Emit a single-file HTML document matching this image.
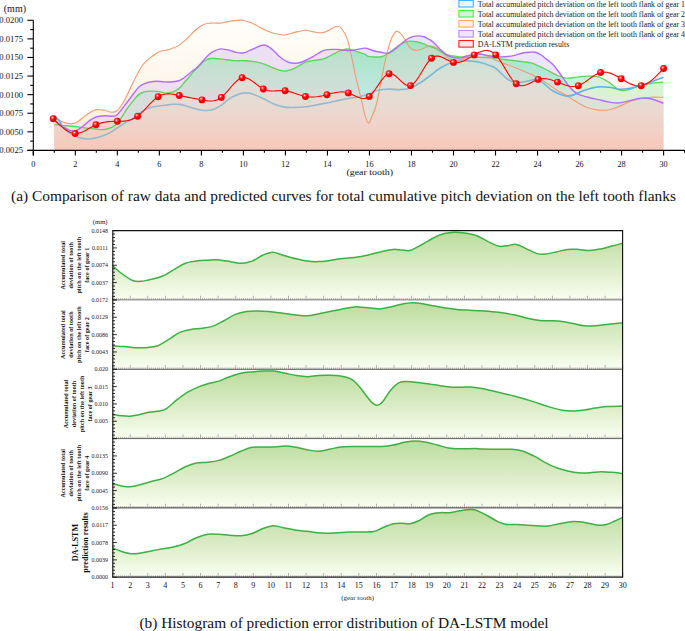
<!DOCTYPE html>
<html><head><meta charset="utf-8"><style>
html,body{margin:0;padding:0;background:#fff;}
body{width:685px;height:631px;overflow:hidden;font-family:"Liberation Serif",serif;}
svg{display:block;}
</style></head><body>
<svg width="685" height="631" viewBox="0 0 685 631">
<defs>
<radialGradient id="ball" cx="0.38" cy="0.35" r="0.65"><stop offset="0" stop-color="#ffffff"/><stop offset="0.22" stop-color="#ff5a5a"/><stop offset="0.5" stop-color="#ff0000"/><stop offset="1" stop-color="#e00000"/></radialGradient>
<linearGradient id="redfill" x1="0" y1="0" x2="0" y2="1"><stop offset="0" stop-color="#f6d2c8" stop-opacity="0.25"/><stop offset="1" stop-color="#f4b8ae" stop-opacity="0.75"/></linearGradient>
<linearGradient id="gfill" x1="0" y1="0" x2="0" y2="1"><stop offset="0" stop-color="#c0e0a2"/><stop offset="1" stop-color="#f8fcf2"/></linearGradient>
</defs>
<linearGradient id="fG" gradientUnits="userSpaceOnUse" x1="0" y1="20" x2="0" y2="150"><stop offset="0.00" stop-color="rgb(84,255,99)" stop-opacity="0.536"/><stop offset="0.10" stop-color="rgb(95,255,115)" stop-opacity="0.534"/><stop offset="0.20" stop-color="rgb(106,255,130)" stop-opacity="0.531"/><stop offset="0.30" stop-color="rgb(116,255,146)" stop-opacity="0.529"/><stop offset="0.40" stop-color="rgb(127,255,162)" stop-opacity="0.526"/><stop offset="0.50" stop-color="rgb(138,255,177)" stop-opacity="0.524"/><stop offset="0.60" stop-color="rgb(148,255,193)" stop-opacity="0.522"/><stop offset="0.70" stop-color="rgb(159,255,208)" stop-opacity="0.519"/><stop offset="0.80" stop-color="rgb(170,255,224)" stop-opacity="0.517"/><stop offset="0.90" stop-color="rgb(181,255,239)" stop-opacity="0.515"/><stop offset="1.00" stop-color="rgb(191,255,255)" stop-opacity="0.512"/></linearGradient>
<linearGradient id="fB" gradientUnits="userSpaceOnUse" x1="0" y1="20" x2="0" y2="150"><stop offset="0.00" stop-color="rgb(255,255,255)" stop-opacity="0.000"/><stop offset="0.10" stop-color="rgb(255,255,255)" stop-opacity="0.000"/><stop offset="0.20" stop-color="rgb(255,255,255)" stop-opacity="0.000"/><stop offset="0.30" stop-color="rgb(255,255,255)" stop-opacity="0.000"/><stop offset="0.40" stop-color="rgb(255,255,255)" stop-opacity="0.000"/><stop offset="0.50" stop-color="rgb(255,255,255)" stop-opacity="0.000"/><stop offset="0.60" stop-color="rgb(255,255,255)" stop-opacity="0.000"/><stop offset="0.70" stop-color="rgb(255,255,255)" stop-opacity="0.000"/><stop offset="0.80" stop-color="rgb(255,255,255)" stop-opacity="0.000"/><stop offset="0.90" stop-color="rgb(255,255,255)" stop-opacity="0.000"/><stop offset="1.00" stop-color="rgb(255,255,255)" stop-opacity="0.000"/></linearGradient>
<linearGradient id="fO" gradientUnits="userSpaceOnUse" x1="0" y1="20" x2="0" y2="150"><stop offset="0.00" stop-color="rgb(255,248,216)" stop-opacity="0.168"/><stop offset="0.10" stop-color="rgb(254,245,213)" stop-opacity="0.208"/><stop offset="0.20" stop-color="rgb(253,241,210)" stop-opacity="0.248"/><stop offset="0.30" stop-color="rgb(252,237,207)" stop-opacity="0.288"/><stop offset="0.40" stop-color="rgb(251,233,204)" stop-opacity="0.328"/><stop offset="0.50" stop-color="rgb(249,230,202)" stop-opacity="0.369"/><stop offset="0.60" stop-color="rgb(248,226,199)" stop-opacity="0.409"/><stop offset="0.70" stop-color="rgb(247,222,196)" stop-opacity="0.449"/><stop offset="0.80" stop-color="rgb(246,218,193)" stop-opacity="0.489"/><stop offset="0.90" stop-color="rgb(245,214,190)" stop-opacity="0.529"/><stop offset="1.00" stop-color="rgb(244,211,187)" stop-opacity="0.569"/></linearGradient>
<linearGradient id="fP" gradientUnits="userSpaceOnUse" x1="0" y1="20" x2="0" y2="150"><stop offset="0.00" stop-color="rgb(76,39,255)" stop-opacity="0.139"/><stop offset="0.10" stop-color="rgb(89,38,255)" stop-opacity="0.133"/><stop offset="0.20" stop-color="rgb(103,37,255)" stop-opacity="0.127"/><stop offset="0.30" stop-color="rgb(116,36,255)" stop-opacity="0.121"/><stop offset="0.40" stop-color="rgb(130,35,255)" stop-opacity="0.115"/><stop offset="0.50" stop-color="rgb(143,34,255)" stop-opacity="0.109"/><stop offset="0.60" stop-color="rgb(157,33,255)" stop-opacity="0.104"/><stop offset="0.70" stop-color="rgb(170,32,255)" stop-opacity="0.098"/><stop offset="0.80" stop-color="rgb(184,31,255)" stop-opacity="0.092"/><stop offset="0.90" stop-color="rgb(197,30,255)" stop-opacity="0.086"/><stop offset="1.00" stop-color="rgb(211,29,255)" stop-opacity="0.080"/></linearGradient>
<linearGradient id="fR" gradientUnits="userSpaceOnUse" x1="0" y1="20" x2="0" y2="150"><stop offset="0.00" stop-color="rgb(255,255,255)" stop-opacity="0.021"/><stop offset="0.10" stop-color="rgb(255,249,246)" stop-opacity="0.083"/><stop offset="0.20" stop-color="rgb(255,242,237)" stop-opacity="0.144"/><stop offset="0.30" stop-color="rgb(255,236,228)" stop-opacity="0.206"/><stop offset="0.40" stop-color="rgb(255,230,220)" stop-opacity="0.267"/><stop offset="0.50" stop-color="rgb(255,223,211)" stop-opacity="0.328"/><stop offset="0.60" stop-color="rgb(255,217,202)" stop-opacity="0.390"/><stop offset="0.70" stop-color="rgb(255,211,193)" stop-opacity="0.451"/><stop offset="0.80" stop-color="rgb(255,204,184)" stop-opacity="0.513"/><stop offset="0.90" stop-color="rgb(255,198,175)" stop-opacity="0.574"/><stop offset="1.00" stop-color="rgb(255,192,166)" stop-opacity="0.636"/></linearGradient>
<linearGradient id="blueStroke" gradientUnits="userSpaceOnUse" x1="0" y1="0" x2="685" y2="0"><stop offset="0.085" stop-color="#4eaee8"/><stop offset="0.105" stop-color="#96bacd"/><stop offset="0.55" stop-color="#96bacd"/><stop offset="0.62" stop-color="#7cb8d8"/><stop offset="0.79" stop-color="#7cb8d8"/><stop offset="0.84" stop-color="#5ab0ea"/></linearGradient>
<path d="M54.30,124.60 C55.48,124.72 57.90,124.98 61.40,125.30 C64.90,125.62 71.83,126.10 75.30,126.50 C78.77,126.90 78.72,127.25 82.20,127.70 C85.68,128.15 92.52,128.90 96.20,129.20 C99.88,129.50 101.72,129.80 104.30,129.50 C106.88,129.20 109.57,128.40 111.70,127.40 C113.83,126.40 115.27,125.45 117.10,123.50 C118.93,121.55 121.13,118.03 122.70,115.70 C124.27,113.37 124.63,112.13 126.50,109.50 C128.37,106.87 131.82,102.42 133.90,99.90 C135.98,97.38 137.35,95.72 139.00,94.40 C140.65,93.08 141.68,92.53 143.80,92.00 C145.92,91.47 149.07,91.27 151.70,91.20 C154.33,91.13 157.30,91.28 159.60,91.60 C161.90,91.92 163.37,93.03 165.50,93.10 C167.63,93.17 170.82,92.35 172.40,92.00 C173.98,91.65 173.77,91.70 175.00,91.00 C176.23,90.30 178.22,89.27 179.80,87.80 C181.38,86.33 182.92,84.05 184.50,82.20 C186.08,80.35 187.72,78.55 189.30,76.70 C190.88,74.85 192.42,72.82 194.00,71.10 C195.58,69.38 197.22,67.98 198.80,66.40 C200.38,64.82 202.18,62.72 203.50,61.60 C204.82,60.48 205.50,60.22 206.70,59.70 C207.90,59.18 209.32,58.70 210.70,58.50 C212.08,58.30 213.07,58.38 215.00,58.50 C216.93,58.62 218.97,58.83 222.30,59.20 C225.63,59.57 231.60,60.45 235.00,60.70 C238.40,60.95 240.02,60.62 242.70,60.70 C245.38,60.78 247.62,60.68 251.10,61.20 C254.58,61.72 259.82,62.63 263.60,63.80 C267.38,64.97 270.30,66.98 273.80,68.20 C277.30,69.42 281.12,71.10 284.60,71.10 C288.08,71.10 291.22,69.70 294.70,68.20 C298.18,66.70 302.55,63.35 305.50,62.10 C308.45,60.85 309.80,61.13 312.40,60.70 C315.00,60.27 318.77,60.00 321.10,59.50 C323.43,59.00 324.37,58.58 326.40,57.70 C328.43,56.82 330.98,55.37 333.30,54.20 C335.62,53.03 337.95,51.57 340.30,50.70 C342.65,49.83 345.07,49.00 347.40,49.00 C349.73,49.00 351.42,49.83 354.30,50.70 C357.18,51.57 362.37,53.27 364.70,54.20 C367.03,55.13 366.50,55.83 368.30,56.30 C370.10,56.77 373.15,56.97 375.50,57.00 C377.85,57.03 380.12,57.25 382.40,56.50 C384.68,55.75 386.87,54.03 389.20,52.50 C391.53,50.97 394.05,48.90 396.40,47.30 C398.75,45.70 401.02,43.92 403.30,42.90 C405.58,41.88 407.77,41.35 410.10,41.20 C412.43,41.05 414.98,41.55 417.30,42.00 C419.62,42.45 422.23,43.27 424.00,43.90 C425.77,44.53 426.58,45.28 427.90,45.80 C429.22,46.32 430.58,46.53 431.90,47.00 C433.22,47.47 434.48,47.93 435.80,48.60 C437.12,49.27 438.47,50.20 439.80,51.00 C441.13,51.80 442.48,52.73 443.80,53.40 C445.12,54.07 446.38,54.60 447.70,55.00 C449.02,55.40 450.38,55.62 451.70,55.80 C453.02,55.98 454.28,55.90 455.60,56.10 C456.92,56.30 456.72,56.82 459.60,57.00 C462.48,57.18 467.18,57.08 472.90,57.20 C478.62,57.32 488.60,57.32 493.90,57.70 C499.20,58.08 501.22,59.00 504.70,59.50 C508.18,60.00 511.85,60.33 514.80,60.70 C517.75,61.07 519.68,61.33 522.40,61.70 C525.12,62.07 528.88,62.40 531.10,62.90 C533.32,63.40 533.37,63.68 535.70,64.70 C538.03,65.72 541.60,67.27 545.10,69.00 C548.60,70.73 553.22,73.58 556.70,75.10 C560.18,76.62 562.52,77.77 566.00,78.10 C569.48,78.43 574.20,77.42 577.60,77.10 C581.00,76.78 582.92,76.25 586.40,76.20 C589.88,76.15 594.70,75.75 598.50,76.80 C602.30,77.85 605.70,80.28 609.20,82.50 C612.70,84.72 616.02,88.98 619.50,90.10 C622.98,91.22 626.62,89.98 630.10,89.20 C633.58,88.42 636.92,86.35 640.40,85.40 C643.88,84.45 647.17,84.03 651.00,83.50 C654.83,82.97 661.33,82.42 663.40,82.20 L663.40,150.40 L54.30,150.40 Z" fill="url(#fG)"/>
<path d="M54.30,117.60 C55.48,118.20 59.20,120.25 61.40,121.20 C63.60,122.15 65.18,122.98 67.50,123.30 C69.82,123.62 72.85,123.95 75.30,123.10 C77.75,122.25 79.82,119.93 82.20,118.20 C84.58,116.47 87.27,114.13 89.60,112.70 C91.93,111.27 93.75,110.02 96.20,109.60 C98.65,109.18 101.72,109.75 104.30,110.20 C106.88,110.65 109.57,112.25 111.70,112.30 C113.83,112.35 115.27,111.97 117.10,110.50 C118.93,109.03 121.23,105.67 122.70,103.50 C124.17,101.33 124.73,99.83 125.90,97.50 C127.07,95.17 128.43,92.13 129.70,89.50 C130.97,86.87 132.15,84.42 133.50,81.70 C134.85,78.98 136.35,75.85 137.80,73.20 C139.25,70.55 140.83,67.78 142.20,65.80 C143.57,63.82 144.68,62.62 146.00,61.30 C147.32,59.98 147.97,59.45 150.10,57.90 C152.23,56.35 156.23,53.28 158.80,52.00 C161.37,50.72 163.63,50.67 165.50,50.20 C167.37,49.73 167.83,49.97 170.00,49.20 C172.17,48.43 175.65,47.38 178.50,45.60 C181.35,43.82 184.25,41.10 187.10,38.50 C189.95,35.90 192.75,32.37 195.60,30.00 C198.45,27.63 201.58,25.45 204.20,24.30 C206.82,23.15 208.67,23.30 211.30,23.10 C213.93,22.90 217.88,23.20 220.00,23.10 C222.12,23.00 222.63,22.75 224.00,22.50 C225.37,22.25 226.37,21.92 228.20,21.60 C230.03,21.28 232.58,20.83 235.00,20.60 C237.42,20.37 240.02,19.83 242.70,20.20 C245.38,20.57 248.23,21.63 251.10,22.80 C253.97,23.97 257.82,26.12 259.90,27.20 C261.98,28.28 261.28,28.28 263.60,29.30 C265.92,30.32 270.30,32.35 273.80,33.30 C277.30,34.25 281.12,35.15 284.60,35.00 C288.08,34.85 291.22,33.18 294.70,32.40 C298.18,31.62 302.55,30.43 305.50,30.30 C308.45,30.17 309.80,31.18 312.40,31.60 C315.00,32.02 318.77,32.80 321.10,32.80 C323.43,32.80 324.37,32.47 326.40,31.60 C328.43,30.73 331.42,28.48 333.30,27.60 C335.18,26.72 336.25,26.07 337.70,26.30 C339.15,26.53 340.38,26.82 342.00,29.00 C343.62,31.18 345.93,35.33 347.40,39.40 C348.87,43.47 349.37,47.00 350.80,53.40 C352.23,59.80 354.27,70.25 356.00,77.80 C357.73,85.35 359.75,92.60 361.20,98.70 C362.65,104.80 363.52,110.33 364.70,114.40 C365.88,118.47 367.13,122.67 368.30,123.10 C369.47,123.53 370.25,120.52 371.70,117.00 C373.15,113.48 374.87,110.87 377.00,102.00 C379.13,93.13 382.28,73.87 384.50,63.80 C386.72,53.73 388.62,46.73 390.30,41.60 C391.98,36.47 393.45,34.73 394.60,33.00 C395.75,31.27 396.03,30.95 397.20,31.20 C398.37,31.45 400.17,32.90 401.60,34.50 C403.03,36.10 404.38,38.58 405.80,40.80 C407.22,43.02 408.50,46.20 410.10,47.80 C411.70,49.40 413.65,50.12 415.40,50.40 C417.15,50.68 418.55,50.15 420.60,49.50 C422.65,48.85 425.82,47.05 427.70,46.50 C429.58,45.95 430.55,46.05 431.90,46.20 C433.25,46.35 434.48,46.67 435.80,47.40 C437.12,48.13 438.47,49.47 439.80,50.60 C441.13,51.73 442.48,53.08 443.80,54.20 C445.12,55.32 446.38,56.32 447.70,57.30 C449.02,58.28 449.47,59.73 451.70,60.10 C453.93,60.47 457.57,60.48 461.10,59.50 C464.63,58.52 469.70,55.17 472.90,54.20 C476.10,53.23 477.90,53.40 480.30,53.70 C482.70,54.00 485.03,55.03 487.30,56.00 C489.57,56.97 491.00,58.20 493.90,59.50 C496.80,60.80 501.22,62.47 504.70,63.80 C508.18,65.13 511.85,66.33 514.80,67.50 C517.75,68.67 519.68,69.67 522.40,70.80 C525.12,71.93 528.88,73.28 531.10,74.30 C533.32,75.32 533.37,75.60 535.70,76.90 C538.03,78.20 541.60,79.92 545.10,82.10 C548.60,84.28 553.22,87.82 556.70,90.00 C560.18,92.18 562.52,93.12 566.00,95.20 C569.48,97.28 574.20,100.50 577.60,102.50 C581.00,104.50 582.92,105.93 586.40,107.20 C589.88,108.47 594.70,109.68 598.50,110.10 C602.30,110.52 605.70,110.33 609.20,109.70 C612.70,109.07 616.02,107.67 619.50,106.30 C622.98,104.93 626.62,102.77 630.10,101.50 C633.58,100.23 636.92,99.42 640.40,98.70 C643.88,97.98 647.17,97.43 651.00,97.20 C654.83,96.97 661.33,97.28 663.40,97.30 L663.40,150.40 L54.30,150.40 Z" fill="url(#fO)"/>
<path d="M54.30,120.60 C55.48,121.42 58.78,123.87 61.40,125.50 C64.02,127.13 67.68,129.48 70.00,130.40 C72.32,131.32 73.27,131.60 75.30,131.00 C77.33,130.40 79.82,128.53 82.20,126.80 C84.58,125.07 87.27,122.23 89.60,120.60 C91.93,118.97 93.75,117.82 96.20,117.00 C98.65,116.18 101.72,115.82 104.30,115.70 C106.88,115.58 109.57,116.45 111.70,116.30 C113.83,116.15 114.75,116.85 117.10,114.80 C119.45,112.75 123.53,106.88 125.80,104.00 C128.07,101.12 128.90,99.90 130.70,97.50 C132.50,95.10 134.95,91.57 136.60,89.60 C138.25,87.63 138.75,86.88 140.60,85.70 C142.45,84.52 145.18,83.23 147.70,82.50 C150.22,81.77 153.07,81.42 155.70,81.30 C158.33,81.18 161.12,81.68 163.50,81.80 C165.88,81.92 168.08,82.05 170.00,82.00 C171.92,81.95 173.37,81.78 175.00,81.50 C176.63,81.22 178.22,80.97 179.80,80.30 C181.38,79.63 182.67,78.83 184.50,77.50 C186.33,76.17 188.95,73.75 190.80,72.30 C192.65,70.85 194.00,70.18 195.60,68.80 C197.20,67.42 198.82,65.72 200.40,64.00 C201.98,62.28 203.52,60.22 205.10,58.50 C206.68,56.78 208.32,54.97 209.90,53.70 C211.48,52.43 212.83,51.70 214.60,50.90 C216.37,50.10 218.60,49.12 220.50,48.90 C222.40,48.68 224.72,49.43 226.00,49.60 C227.28,49.77 226.70,49.50 228.20,49.90 C229.70,50.30 232.58,51.48 235.00,52.00 C237.42,52.52 240.02,53.35 242.70,53.00 C245.38,52.65 247.57,51.23 251.10,49.90 C254.63,48.57 260.23,44.95 263.90,45.00 C267.57,45.05 270.47,48.23 273.10,50.20 C275.73,52.17 277.50,54.93 279.70,56.80 C281.90,58.67 283.88,60.32 286.30,61.40 C288.72,62.48 291.58,63.20 294.20,63.30 C296.82,63.40 298.93,63.08 302.00,62.00 C305.07,60.92 309.60,58.42 312.60,56.80 C315.60,55.18 317.82,53.45 320.00,52.30 C322.18,51.15 323.48,50.38 325.70,49.90 C327.92,49.42 330.87,49.45 333.30,49.40 C335.73,49.35 337.95,49.42 340.30,49.60 C342.65,49.78 345.07,50.45 347.40,50.50 C349.73,50.55 351.42,50.30 354.30,49.90 C357.18,49.50 362.37,48.25 364.70,48.10 C367.03,47.95 366.50,48.48 368.30,49.00 C370.10,49.52 373.15,50.62 375.50,51.20 C377.85,51.78 380.12,52.20 382.40,52.50 C384.68,52.80 386.87,53.73 389.20,53.00 C391.53,52.27 394.05,49.93 396.40,48.10 C398.75,46.27 401.02,43.73 403.30,42.00 C405.58,40.27 407.77,38.72 410.10,37.70 C412.43,36.68 414.98,36.07 417.30,35.90 C419.62,35.73 422.23,36.23 424.00,36.70 C425.77,37.17 426.58,37.97 427.90,38.70 C429.22,39.43 430.58,40.10 431.90,41.10 C433.22,42.10 434.48,43.38 435.80,44.70 C437.12,46.02 438.47,47.68 439.80,49.00 C441.13,50.32 442.48,51.53 443.80,52.60 C445.12,53.67 446.38,54.67 447.70,55.40 C449.02,56.13 450.38,56.62 451.70,57.00 C453.02,57.38 454.28,57.52 455.60,57.70 C456.92,57.88 458.27,58.22 459.60,58.10 C460.93,57.98 462.28,57.38 463.60,57.00 C464.92,56.62 465.95,56.20 467.50,55.80 C469.05,55.40 470.77,54.87 472.90,54.60 C475.03,54.33 477.90,54.07 480.30,54.20 C482.70,54.33 485.03,55.02 487.30,55.40 C489.57,55.78 491.00,56.27 493.90,56.50 C496.80,56.73 501.22,56.98 504.70,56.80 C508.18,56.62 511.85,56.03 514.80,55.40 C517.75,54.77 519.87,53.53 522.40,53.00 C524.93,52.47 527.82,52.32 530.00,52.20 C532.18,52.08 533.65,51.83 535.50,52.30 C537.35,52.77 539.25,53.82 541.10,55.00 C542.95,56.18 544.75,57.93 546.60,59.40 C548.45,60.87 550.35,61.95 552.20,63.80 C554.05,65.65 555.85,68.08 557.70,70.50 C559.55,72.92 561.45,75.72 563.30,78.30 C565.15,80.88 566.97,83.78 568.80,86.00 C570.63,88.22 572.45,90.12 574.30,91.60 C576.15,93.08 577.28,93.88 579.90,94.90 C582.52,95.92 586.90,96.92 590.00,97.70 C593.10,98.48 595.30,98.87 598.50,99.60 C601.70,100.33 605.70,101.55 609.20,102.10 C612.70,102.65 616.02,103.15 619.50,102.90 C622.98,102.65 626.62,101.40 630.10,100.60 C633.58,99.80 636.92,98.42 640.40,98.10 C643.88,97.78 647.17,97.85 651.00,98.70 C654.83,99.55 661.33,102.45 663.40,103.20 L663.40,150.40 L54.30,150.40 Z" fill="url(#fP)"/>
<path d="M53.21,118.70 L55.40,120.86 L57.59,122.99 L59.78,125.03 L61.97,126.94 L64.16,128.69 L66.36,130.23 L68.55,131.53 L70.74,132.53 L72.93,133.20 L75.12,133.50 L77.20,133.42 L79.28,133.01 L81.36,132.34 L83.44,131.46 L85.52,130.43 L87.61,129.29 L89.69,128.10 L91.77,126.92 L93.85,125.80 L95.93,124.80 L98.07,123.93 L100.21,123.22 L102.35,122.66 L104.49,122.22 L106.63,121.90 L108.78,121.66 L110.92,121.50 L113.06,121.40 L115.20,121.34 L117.34,121.30 L119.37,121.27 L121.39,121.21 L123.42,121.09 L125.44,120.89 L127.47,120.58 L129.50,120.11 L131.52,119.47 L133.55,118.63 L135.57,117.55 L137.60,116.20 L139.66,114.54 L141.71,112.65 L143.77,110.58 L145.82,108.40 L147.88,106.17 L149.94,103.97 L151.99,101.86 L154.05,99.90 L156.10,98.16 L158.16,96.70 L160.27,95.55 L162.38,94.73 L164.49,94.20 L166.60,93.93 L168.72,93.88 L170.83,94.00 L172.94,94.26 L175.05,94.62 L177.16,95.05 L179.27,95.50 L181.54,95.98 L183.81,96.44 L186.08,96.90 L188.35,97.34 L190.62,97.77 L192.90,98.20 L195.17,98.63 L197.44,99.05 L199.71,99.48 L201.98,99.90 L203.91,100.26 L205.84,100.58 L207.77,100.83 L209.70,100.97 L211.63,100.96 L213.57,100.77 L215.50,100.35 L217.43,99.68 L219.36,98.71 L221.29,97.40 L223.37,95.60 L225.45,93.48 L227.53,91.14 L229.61,88.70 L231.69,86.25 L233.78,83.91 L235.86,81.79 L237.94,79.99 L240.02,78.63 L242.10,77.80 L244.22,77.59 L246.34,77.95 L248.46,78.77 L250.58,79.96 L252.71,81.41 L254.83,83.02 L256.95,84.69 L259.07,86.31 L261.19,87.78 L263.31,89.00 L265.49,89.91 L267.67,90.51 L269.85,90.84 L272.03,90.98 L274.22,90.97 L276.40,90.87 L278.58,90.75 L280.76,90.66 L282.94,90.66 L285.12,90.80 L287.15,91.10 L289.18,91.55 L291.21,92.11 L293.24,92.75 L295.27,93.44 L297.31,94.15 L299.34,94.84 L301.37,95.48 L303.40,96.05 L305.43,96.50 L307.58,96.83 L309.73,97.01 L311.88,97.06 L314.03,96.98 L316.19,96.80 L318.34,96.51 L320.49,96.15 L322.64,95.72 L324.79,95.23 L326.94,94.70 L329.08,94.15 L331.21,93.59 L333.35,93.07 L335.48,92.62 L337.62,92.25 L339.76,92.01 L341.89,91.92 L344.03,92.02 L346.16,92.34 L348.30,92.90 L350.40,93.70 L352.49,94.66 L354.59,95.70 L356.68,96.70 L358.78,97.56 L360.88,98.20 L362.97,98.50 L365.07,98.36 L367.16,97.70 L369.26,96.40 L371.24,94.54 L373.22,92.18 L375.20,89.47 L377.18,86.57 L379.17,83.63 L381.15,80.80 L383.13,78.24 L385.11,76.10 L387.09,74.54 L389.07,73.70 L391.21,73.72 L393.35,74.57 L395.49,76.02 L397.63,77.87 L399.78,79.91 L401.92,81.93 L404.06,83.72 L406.20,85.07 L408.34,85.77 L410.48,85.60 L412.58,84.46 L414.68,82.47 L416.78,79.82 L418.88,76.69 L420.99,73.27 L423.09,69.74 L425.19,66.28 L427.29,63.08 L429.39,60.33 L431.49,58.20 L433.69,56.79 L435.89,56.14 L438.09,56.12 L440.29,56.59 L442.50,57.43 L444.70,58.49 L446.90,59.65 L449.10,60.78 L451.30,61.74 L453.50,62.40 L455.57,62.65 L457.64,62.57 L459.71,62.18 L461.78,61.55 L463.86,60.71 L465.93,59.70 L468.00,58.57 L470.07,57.37 L472.14,56.13 L474.21,54.90 L476.36,53.68 L478.51,52.58 L480.66,51.66 L482.81,50.96 L484.97,50.56 L487.12,50.50 L489.27,50.85 L491.42,51.66 L493.57,52.99 L495.72,54.90 L497.77,57.28 L499.82,60.12 L501.87,63.28 L503.92,66.63 L505.98,70.06 L508.03,73.43 L510.08,76.61 L512.13,79.49 L514.18,81.93 L516.23,83.80 L518.42,85.08 L520.61,85.68 L522.80,85.71 L524.99,85.29 L527.18,84.52 L529.38,83.52 L531.57,82.40 L533.76,81.26 L535.95,80.23 L538.14,79.40 L540.08,78.92 L542.01,78.66 L543.95,78.61 L545.88,78.75 L547.82,79.04 L549.76,79.47 L551.69,80.01 L553.63,80.65 L555.56,81.35 L557.50,82.10 L559.58,82.93 L561.65,83.74 L563.73,84.51 L565.80,85.20 L567.88,85.78 L569.96,86.21 L572.03,86.45 L574.11,86.47 L576.18,86.23 L578.26,85.70 L580.49,84.79 L582.72,83.57 L584.95,82.14 L587.18,80.56 L589.41,78.92 L591.65,77.30 L593.88,75.76 L596.11,74.40 L598.34,73.29 L600.57,72.50 L602.63,72.12 L604.69,72.04 L606.75,72.25 L608.81,72.70 L610.88,73.37 L612.94,74.21 L615.00,75.20 L617.06,76.30 L619.12,77.48 L621.18,78.70 L623.18,79.90 L625.18,81.07 L627.18,82.19 L629.18,83.22 L631.19,84.13 L633.19,84.88 L635.19,85.45 L637.19,85.80 L639.19,85.89 L641.19,85.70 L643.43,85.12 L645.67,84.18 L647.91,82.92 L650.15,81.38 L652.39,79.60 L654.64,77.62 L656.88,75.48 L659.12,73.22 L661.36,70.88 L663.60,68.50 L663.60,150.40 L54.31,150.40 Z" fill="url(#fR)"/>
<path d="M54.30,117.60 C55.48,118.20 59.20,120.25 61.40,121.20 C63.60,122.15 65.18,122.98 67.50,123.30 C69.82,123.62 72.85,123.95 75.30,123.10 C77.75,122.25 79.82,119.93 82.20,118.20 C84.58,116.47 87.27,114.13 89.60,112.70 C91.93,111.27 93.75,110.02 96.20,109.60 C98.65,109.18 101.72,109.75 104.30,110.20 C106.88,110.65 109.57,112.25 111.70,112.30 C113.83,112.35 115.27,111.97 117.10,110.50 C118.93,109.03 121.23,105.67 122.70,103.50 C124.17,101.33 124.73,99.83 125.90,97.50 C127.07,95.17 128.43,92.13 129.70,89.50 C130.97,86.87 132.15,84.42 133.50,81.70 C134.85,78.98 136.35,75.85 137.80,73.20 C139.25,70.55 140.83,67.78 142.20,65.80 C143.57,63.82 144.68,62.62 146.00,61.30 C147.32,59.98 147.97,59.45 150.10,57.90 C152.23,56.35 156.23,53.28 158.80,52.00 C161.37,50.72 163.63,50.67 165.50,50.20 C167.37,49.73 167.83,49.97 170.00,49.20 C172.17,48.43 175.65,47.38 178.50,45.60 C181.35,43.82 184.25,41.10 187.10,38.50 C189.95,35.90 192.75,32.37 195.60,30.00 C198.45,27.63 201.58,25.45 204.20,24.30 C206.82,23.15 208.67,23.30 211.30,23.10 C213.93,22.90 217.88,23.20 220.00,23.10 C222.12,23.00 222.63,22.75 224.00,22.50 C225.37,22.25 226.37,21.92 228.20,21.60 C230.03,21.28 232.58,20.83 235.00,20.60 C237.42,20.37 240.02,19.83 242.70,20.20 C245.38,20.57 248.23,21.63 251.10,22.80 C253.97,23.97 257.82,26.12 259.90,27.20 C261.98,28.28 261.28,28.28 263.60,29.30 C265.92,30.32 270.30,32.35 273.80,33.30 C277.30,34.25 281.12,35.15 284.60,35.00 C288.08,34.85 291.22,33.18 294.70,32.40 C298.18,31.62 302.55,30.43 305.50,30.30 C308.45,30.17 309.80,31.18 312.40,31.60 C315.00,32.02 318.77,32.80 321.10,32.80 C323.43,32.80 324.37,32.47 326.40,31.60 C328.43,30.73 331.42,28.48 333.30,27.60 C335.18,26.72 336.25,26.07 337.70,26.30 C339.15,26.53 340.38,26.82 342.00,29.00 C343.62,31.18 345.93,35.33 347.40,39.40 C348.87,43.47 349.37,47.00 350.80,53.40 C352.23,59.80 354.27,70.25 356.00,77.80 C357.73,85.35 359.75,92.60 361.20,98.70 C362.65,104.80 363.52,110.33 364.70,114.40 C365.88,118.47 367.13,122.67 368.30,123.10 C369.47,123.53 370.25,120.52 371.70,117.00 C373.15,113.48 374.87,110.87 377.00,102.00 C379.13,93.13 382.28,73.87 384.50,63.80 C386.72,53.73 388.62,46.73 390.30,41.60 C391.98,36.47 393.45,34.73 394.60,33.00 C395.75,31.27 396.03,30.95 397.20,31.20 C398.37,31.45 400.17,32.90 401.60,34.50 C403.03,36.10 404.38,38.58 405.80,40.80 C407.22,43.02 408.50,46.20 410.10,47.80 C411.70,49.40 413.65,50.12 415.40,50.40 C417.15,50.68 418.55,50.15 420.60,49.50 C422.65,48.85 425.82,47.05 427.70,46.50 C429.58,45.95 430.55,46.05 431.90,46.20 C433.25,46.35 434.48,46.67 435.80,47.40 C437.12,48.13 438.47,49.47 439.80,50.60 C441.13,51.73 442.48,53.08 443.80,54.20 C445.12,55.32 446.38,56.32 447.70,57.30 C449.02,58.28 449.47,59.73 451.70,60.10 C453.93,60.47 457.57,60.48 461.10,59.50 C464.63,58.52 469.70,55.17 472.90,54.20 C476.10,53.23 477.90,53.40 480.30,53.70 C482.70,54.00 485.03,55.03 487.30,56.00 C489.57,56.97 491.00,58.20 493.90,59.50 C496.80,60.80 501.22,62.47 504.70,63.80 C508.18,65.13 511.85,66.33 514.80,67.50 C517.75,68.67 519.68,69.67 522.40,70.80 C525.12,71.93 528.88,73.28 531.10,74.30 C533.32,75.32 533.37,75.60 535.70,76.90 C538.03,78.20 541.60,79.92 545.10,82.10 C548.60,84.28 553.22,87.82 556.70,90.00 C560.18,92.18 562.52,93.12 566.00,95.20 C569.48,97.28 574.20,100.50 577.60,102.50 C581.00,104.50 582.92,105.93 586.40,107.20 C589.88,108.47 594.70,109.68 598.50,110.10 C602.30,110.52 605.70,110.33 609.20,109.70 C612.70,109.07 616.02,107.67 619.50,106.30 C622.98,104.93 626.62,102.77 630.10,101.50 C633.58,100.23 636.92,99.42 640.40,98.70 C643.88,97.98 647.17,97.43 651.00,97.20 C654.83,96.97 661.33,97.28 663.40,97.30" fill="none" stroke="#f39a70" stroke-width="1.10"/>
<path d="M54.30,124.60 C55.48,124.72 57.90,124.98 61.40,125.30 C64.90,125.62 71.83,126.10 75.30,126.50 C78.77,126.90 78.72,127.25 82.20,127.70 C85.68,128.15 92.52,128.90 96.20,129.20 C99.88,129.50 101.72,129.80 104.30,129.50 C106.88,129.20 109.57,128.40 111.70,127.40 C113.83,126.40 115.27,125.45 117.10,123.50 C118.93,121.55 121.13,118.03 122.70,115.70 C124.27,113.37 124.63,112.13 126.50,109.50 C128.37,106.87 131.82,102.42 133.90,99.90 C135.98,97.38 137.35,95.72 139.00,94.40 C140.65,93.08 141.68,92.53 143.80,92.00 C145.92,91.47 149.07,91.27 151.70,91.20 C154.33,91.13 157.30,91.28 159.60,91.60 C161.90,91.92 163.37,93.03 165.50,93.10 C167.63,93.17 170.82,92.35 172.40,92.00 C173.98,91.65 173.77,91.70 175.00,91.00 C176.23,90.30 178.22,89.27 179.80,87.80 C181.38,86.33 182.92,84.05 184.50,82.20 C186.08,80.35 187.72,78.55 189.30,76.70 C190.88,74.85 192.42,72.82 194.00,71.10 C195.58,69.38 197.22,67.98 198.80,66.40 C200.38,64.82 202.18,62.72 203.50,61.60 C204.82,60.48 205.50,60.22 206.70,59.70 C207.90,59.18 209.32,58.70 210.70,58.50 C212.08,58.30 213.07,58.38 215.00,58.50 C216.93,58.62 218.97,58.83 222.30,59.20 C225.63,59.57 231.60,60.45 235.00,60.70 C238.40,60.95 240.02,60.62 242.70,60.70 C245.38,60.78 247.62,60.68 251.10,61.20 C254.58,61.72 259.82,62.63 263.60,63.80 C267.38,64.97 270.30,66.98 273.80,68.20 C277.30,69.42 281.12,71.10 284.60,71.10 C288.08,71.10 291.22,69.70 294.70,68.20 C298.18,66.70 302.55,63.35 305.50,62.10 C308.45,60.85 309.80,61.13 312.40,60.70 C315.00,60.27 318.77,60.00 321.10,59.50 C323.43,59.00 324.37,58.58 326.40,57.70 C328.43,56.82 330.98,55.37 333.30,54.20 C335.62,53.03 337.95,51.57 340.30,50.70 C342.65,49.83 345.07,49.00 347.40,49.00 C349.73,49.00 351.42,49.83 354.30,50.70 C357.18,51.57 362.37,53.27 364.70,54.20 C367.03,55.13 366.50,55.83 368.30,56.30 C370.10,56.77 373.15,56.97 375.50,57.00 C377.85,57.03 380.12,57.25 382.40,56.50 C384.68,55.75 386.87,54.03 389.20,52.50 C391.53,50.97 394.05,48.90 396.40,47.30 C398.75,45.70 401.02,43.92 403.30,42.90 C405.58,41.88 407.77,41.35 410.10,41.20 C412.43,41.05 414.98,41.55 417.30,42.00 C419.62,42.45 422.23,43.27 424.00,43.90 C425.77,44.53 426.58,45.28 427.90,45.80 C429.22,46.32 430.58,46.53 431.90,47.00 C433.22,47.47 434.48,47.93 435.80,48.60 C437.12,49.27 438.47,50.20 439.80,51.00 C441.13,51.80 442.48,52.73 443.80,53.40 C445.12,54.07 446.38,54.60 447.70,55.00 C449.02,55.40 450.38,55.62 451.70,55.80 C453.02,55.98 454.28,55.90 455.60,56.10 C456.92,56.30 456.72,56.82 459.60,57.00 C462.48,57.18 467.18,57.08 472.90,57.20 C478.62,57.32 488.60,57.32 493.90,57.70 C499.20,58.08 501.22,59.00 504.70,59.50 C508.18,60.00 511.85,60.33 514.80,60.70 C517.75,61.07 519.68,61.33 522.40,61.70 C525.12,62.07 528.88,62.40 531.10,62.90 C533.32,63.40 533.37,63.68 535.70,64.70 C538.03,65.72 541.60,67.27 545.10,69.00 C548.60,70.73 553.22,73.58 556.70,75.10 C560.18,76.62 562.52,77.77 566.00,78.10 C569.48,78.43 574.20,77.42 577.60,77.10 C581.00,76.78 582.92,76.25 586.40,76.20 C589.88,76.15 594.70,75.75 598.50,76.80 C602.30,77.85 605.70,80.28 609.20,82.50 C612.70,84.72 616.02,88.98 619.50,90.10 C622.98,91.22 626.62,89.98 630.10,89.20 C633.58,88.42 636.92,86.35 640.40,85.40 C643.88,84.45 647.17,84.03 651.00,83.50 C654.83,82.97 661.33,82.42 663.40,82.20" fill="none" stroke="#5cd65c" stroke-width="1.35"/>
<path d="M54.30,120.60 C55.48,121.42 58.78,123.87 61.40,125.50 C64.02,127.13 67.68,129.48 70.00,130.40 C72.32,131.32 73.27,131.60 75.30,131.00 C77.33,130.40 79.82,128.53 82.20,126.80 C84.58,125.07 87.27,122.23 89.60,120.60 C91.93,118.97 93.75,117.82 96.20,117.00 C98.65,116.18 101.72,115.82 104.30,115.70 C106.88,115.58 109.57,116.45 111.70,116.30 C113.83,116.15 114.75,116.85 117.10,114.80 C119.45,112.75 123.53,106.88 125.80,104.00 C128.07,101.12 128.90,99.90 130.70,97.50 C132.50,95.10 134.95,91.57 136.60,89.60 C138.25,87.63 138.75,86.88 140.60,85.70 C142.45,84.52 145.18,83.23 147.70,82.50 C150.22,81.77 153.07,81.42 155.70,81.30 C158.33,81.18 161.12,81.68 163.50,81.80 C165.88,81.92 168.08,82.05 170.00,82.00 C171.92,81.95 173.37,81.78 175.00,81.50 C176.63,81.22 178.22,80.97 179.80,80.30 C181.38,79.63 182.67,78.83 184.50,77.50 C186.33,76.17 188.95,73.75 190.80,72.30 C192.65,70.85 194.00,70.18 195.60,68.80 C197.20,67.42 198.82,65.72 200.40,64.00 C201.98,62.28 203.52,60.22 205.10,58.50 C206.68,56.78 208.32,54.97 209.90,53.70 C211.48,52.43 212.83,51.70 214.60,50.90 C216.37,50.10 218.60,49.12 220.50,48.90 C222.40,48.68 224.72,49.43 226.00,49.60 C227.28,49.77 226.70,49.50 228.20,49.90 C229.70,50.30 232.58,51.48 235.00,52.00 C237.42,52.52 240.02,53.35 242.70,53.00 C245.38,52.65 247.57,51.23 251.10,49.90 C254.63,48.57 260.23,44.95 263.90,45.00 C267.57,45.05 270.47,48.23 273.10,50.20 C275.73,52.17 277.50,54.93 279.70,56.80 C281.90,58.67 283.88,60.32 286.30,61.40 C288.72,62.48 291.58,63.20 294.20,63.30 C296.82,63.40 298.93,63.08 302.00,62.00 C305.07,60.92 309.60,58.42 312.60,56.80 C315.60,55.18 317.82,53.45 320.00,52.30 C322.18,51.15 323.48,50.38 325.70,49.90 C327.92,49.42 330.87,49.45 333.30,49.40 C335.73,49.35 337.95,49.42 340.30,49.60 C342.65,49.78 345.07,50.45 347.40,50.50 C349.73,50.55 351.42,50.30 354.30,49.90 C357.18,49.50 362.37,48.25 364.70,48.10 C367.03,47.95 366.50,48.48 368.30,49.00 C370.10,49.52 373.15,50.62 375.50,51.20 C377.85,51.78 380.12,52.20 382.40,52.50 C384.68,52.80 386.87,53.73 389.20,53.00 C391.53,52.27 394.05,49.93 396.40,48.10 C398.75,46.27 401.02,43.73 403.30,42.00 C405.58,40.27 407.77,38.72 410.10,37.70 C412.43,36.68 414.98,36.07 417.30,35.90 C419.62,35.73 422.23,36.23 424.00,36.70 C425.77,37.17 426.58,37.97 427.90,38.70 C429.22,39.43 430.58,40.10 431.90,41.10 C433.22,42.10 434.48,43.38 435.80,44.70 C437.12,46.02 438.47,47.68 439.80,49.00 C441.13,50.32 442.48,51.53 443.80,52.60 C445.12,53.67 446.38,54.67 447.70,55.40 C449.02,56.13 450.38,56.62 451.70,57.00 C453.02,57.38 454.28,57.52 455.60,57.70 C456.92,57.88 458.27,58.22 459.60,58.10 C460.93,57.98 462.28,57.38 463.60,57.00 C464.92,56.62 465.95,56.20 467.50,55.80 C469.05,55.40 470.77,54.87 472.90,54.60 C475.03,54.33 477.90,54.07 480.30,54.20 C482.70,54.33 485.03,55.02 487.30,55.40 C489.57,55.78 491.00,56.27 493.90,56.50 C496.80,56.73 501.22,56.98 504.70,56.80 C508.18,56.62 511.85,56.03 514.80,55.40 C517.75,54.77 519.87,53.53 522.40,53.00 C524.93,52.47 527.82,52.32 530.00,52.20 C532.18,52.08 533.65,51.83 535.50,52.30 C537.35,52.77 539.25,53.82 541.10,55.00 C542.95,56.18 544.75,57.93 546.60,59.40 C548.45,60.87 550.35,61.95 552.20,63.80 C554.05,65.65 555.85,68.08 557.70,70.50 C559.55,72.92 561.45,75.72 563.30,78.30 C565.15,80.88 566.97,83.78 568.80,86.00 C570.63,88.22 572.45,90.12 574.30,91.60 C576.15,93.08 577.28,93.88 579.90,94.90 C582.52,95.92 586.90,96.92 590.00,97.70 C593.10,98.48 595.30,98.87 598.50,99.60 C601.70,100.33 605.70,101.55 609.20,102.10 C612.70,102.65 616.02,103.15 619.50,102.90 C622.98,102.65 626.62,101.40 630.10,100.60 C633.58,99.80 636.92,98.42 640.40,98.10 C643.88,97.78 647.17,97.85 651.00,98.70 C654.83,99.55 661.33,102.45 663.40,103.20" fill="none" stroke="#b06ef8" stroke-width="1.40"/>
<path d="M54.30,115.70 C55.08,116.52 57.62,118.85 59.00,120.60 C60.38,122.35 61.18,124.35 62.60,126.20 C64.02,128.05 65.38,130.07 67.50,131.70 C69.62,133.33 72.85,134.88 75.30,136.00 C77.75,137.12 79.82,137.90 82.20,138.40 C84.58,138.90 87.27,139.10 89.60,139.00 C91.93,138.90 93.75,138.42 96.20,137.80 C98.65,137.18 101.72,136.32 104.30,135.30 C106.88,134.28 109.57,132.92 111.70,131.70 C113.83,130.48 114.55,129.63 117.10,128.00 C119.65,126.37 124.23,123.57 127.00,121.90 C129.77,120.23 131.87,119.18 133.70,118.00 C135.53,116.82 136.67,115.87 138.00,114.80 C139.33,113.73 139.77,112.78 141.70,111.60 C143.63,110.42 146.72,108.63 149.60,107.70 C152.48,106.77 156.35,106.40 159.00,106.00 C161.65,105.60 163.27,105.58 165.50,105.30 C167.73,105.02 170.00,104.45 172.40,104.30 C174.80,104.15 177.57,104.12 179.90,104.40 C182.23,104.68 184.17,105.35 186.40,106.00 C188.63,106.65 190.88,107.63 193.30,108.30 C195.72,108.97 198.57,109.63 200.90,110.00 C203.23,110.37 205.07,110.65 207.30,110.50 C209.53,110.35 211.88,110.05 214.30,109.10 C216.72,108.15 219.48,106.38 221.80,104.80 C224.12,103.22 226.22,101.03 228.20,99.60 C230.18,98.17 231.28,97.28 233.70,96.20 C236.12,95.12 239.80,93.55 242.70,93.10 C245.60,92.65 247.62,92.57 251.10,93.50 C254.58,94.43 259.82,96.97 263.60,98.70 C267.38,100.43 270.30,102.50 273.80,103.90 C277.30,105.30 281.12,106.52 284.60,107.10 C288.08,107.68 291.22,107.45 294.70,107.40 C298.18,107.35 302.55,107.08 305.50,106.80 C308.45,106.52 308.92,106.33 312.40,105.70 C315.88,105.07 322.03,103.88 326.40,103.00 C330.77,102.12 335.10,101.12 338.60,100.40 C342.10,99.68 344.22,99.27 347.40,98.70 C350.58,98.13 354.22,97.73 357.70,97.00 C361.18,96.27 365.33,95.33 368.30,94.30 C371.27,93.27 373.15,91.58 375.50,90.80 C377.85,90.02 380.12,89.88 382.40,89.60 C384.68,89.32 386.28,89.10 389.20,89.10 C392.12,89.10 396.42,89.75 399.90,89.60 C403.38,89.45 407.20,89.05 410.10,88.20 C413.00,87.35 414.93,85.87 417.30,84.50 C419.67,83.13 422.00,81.58 424.30,80.00 C426.60,78.42 428.82,76.75 431.10,75.00 C433.38,73.25 435.68,71.08 438.00,69.50 C440.32,67.92 442.72,66.67 445.00,65.50 C447.28,64.33 449.27,63.20 451.70,62.50 C454.13,61.80 456.97,61.57 459.60,61.30 C462.23,61.03 465.28,60.92 467.50,60.90 C469.72,60.88 470.77,60.95 472.90,61.20 C475.03,61.45 476.80,61.38 480.30,62.40 C483.80,63.42 490.42,65.47 493.90,67.30 C497.38,69.13 498.82,71.37 501.20,73.40 C503.58,75.43 505.93,77.98 508.20,79.50 C510.47,81.02 512.43,82.08 514.80,82.50 C517.17,82.92 519.87,82.33 522.40,82.00 C524.93,81.67 527.82,80.93 530.00,80.50 C532.18,80.07 533.65,79.22 535.50,79.40 C537.35,79.58 539.25,80.50 541.10,81.60 C542.95,82.70 544.75,84.52 546.60,86.00 C548.45,87.48 550.17,89.20 552.20,90.50 C554.23,91.80 556.58,92.88 558.80,93.80 C561.02,94.72 563.28,95.73 565.50,96.00 C567.72,96.27 569.88,95.95 572.10,95.40 C574.32,94.85 576.58,93.62 578.80,92.70 C581.02,91.78 582.12,90.87 585.40,89.90 C588.68,88.93 594.53,87.33 598.50,86.90 C602.47,86.47 605.70,86.92 609.20,87.30 C612.70,87.68 616.02,89.05 619.50,89.20 C622.98,89.35 626.62,88.83 630.10,88.20 C633.58,87.57 636.92,86.45 640.40,85.40 C643.88,84.35 647.17,83.27 651.00,81.90 C654.83,80.53 661.33,77.98 663.40,77.20" fill="none" stroke="url(#blueStroke)" stroke-width="1.60"/>
<path d="M53.21,118.70 L55.40,120.86 L57.59,122.99 L59.78,125.03 L61.97,126.94 L64.16,128.69 L66.36,130.23 L68.55,131.53 L70.74,132.53 L72.93,133.20 L75.12,133.50 L77.20,133.42 L79.28,133.01 L81.36,132.34 L83.44,131.46 L85.52,130.43 L87.61,129.29 L89.69,128.10 L91.77,126.92 L93.85,125.80 L95.93,124.80 L98.07,123.93 L100.21,123.22 L102.35,122.66 L104.49,122.22 L106.63,121.90 L108.78,121.66 L110.92,121.50 L113.06,121.40 L115.20,121.34 L117.34,121.30 L119.37,121.27 L121.39,121.21 L123.42,121.09 L125.44,120.89 L127.47,120.58 L129.50,120.11 L131.52,119.47 L133.55,118.63 L135.57,117.55 L137.60,116.20 L139.66,114.54 L141.71,112.65 L143.77,110.58 L145.82,108.40 L147.88,106.17 L149.94,103.97 L151.99,101.86 L154.05,99.90 L156.10,98.16 L158.16,96.70 L160.27,95.55 L162.38,94.73 L164.49,94.20 L166.60,93.93 L168.72,93.88 L170.83,94.00 L172.94,94.26 L175.05,94.62 L177.16,95.05 L179.27,95.50 L181.54,95.98 L183.81,96.44 L186.08,96.90 L188.35,97.34 L190.62,97.77 L192.90,98.20 L195.17,98.63 L197.44,99.05 L199.71,99.48 L201.98,99.90 L203.91,100.26 L205.84,100.58 L207.77,100.83 L209.70,100.97 L211.63,100.96 L213.57,100.77 L215.50,100.35 L217.43,99.68 L219.36,98.71 L221.29,97.40 L223.37,95.60 L225.45,93.48 L227.53,91.14 L229.61,88.70 L231.69,86.25 L233.78,83.91 L235.86,81.79 L237.94,79.99 L240.02,78.63 L242.10,77.80 L244.22,77.59 L246.34,77.95 L248.46,78.77 L250.58,79.96 L252.71,81.41 L254.83,83.02 L256.95,84.69 L259.07,86.31 L261.19,87.78 L263.31,89.00 L265.49,89.91 L267.67,90.51 L269.85,90.84 L272.03,90.98 L274.22,90.97 L276.40,90.87 L278.58,90.75 L280.76,90.66 L282.94,90.66 L285.12,90.80 L287.15,91.10 L289.18,91.55 L291.21,92.11 L293.24,92.75 L295.27,93.44 L297.31,94.15 L299.34,94.84 L301.37,95.48 L303.40,96.05 L305.43,96.50 L307.58,96.83 L309.73,97.01 L311.88,97.06 L314.03,96.98 L316.19,96.80 L318.34,96.51 L320.49,96.15 L322.64,95.72 L324.79,95.23 L326.94,94.70 L329.08,94.15 L331.21,93.59 L333.35,93.07 L335.48,92.62 L337.62,92.25 L339.76,92.01 L341.89,91.92 L344.03,92.02 L346.16,92.34 L348.30,92.90 L350.40,93.70 L352.49,94.66 L354.59,95.70 L356.68,96.70 L358.78,97.56 L360.88,98.20 L362.97,98.50 L365.07,98.36 L367.16,97.70 L369.26,96.40 L371.24,94.54 L373.22,92.18 L375.20,89.47 L377.18,86.57 L379.17,83.63 L381.15,80.80 L383.13,78.24 L385.11,76.10 L387.09,74.54 L389.07,73.70 L391.21,73.72 L393.35,74.57 L395.49,76.02 L397.63,77.87 L399.78,79.91 L401.92,81.93 L404.06,83.72 L406.20,85.07 L408.34,85.77 L410.48,85.60 L412.58,84.46 L414.68,82.47 L416.78,79.82 L418.88,76.69 L420.99,73.27 L423.09,69.74 L425.19,66.28 L427.29,63.08 L429.39,60.33 L431.49,58.20 L433.69,56.79 L435.89,56.14 L438.09,56.12 L440.29,56.59 L442.50,57.43 L444.70,58.49 L446.90,59.65 L449.10,60.78 L451.30,61.74 L453.50,62.40 L455.57,62.65 L457.64,62.57 L459.71,62.18 L461.78,61.55 L463.86,60.71 L465.93,59.70 L468.00,58.57 L470.07,57.37 L472.14,56.13 L474.21,54.90 L476.36,53.68 L478.51,52.58 L480.66,51.66 L482.81,50.96 L484.97,50.56 L487.12,50.50 L489.27,50.85 L491.42,51.66 L493.57,52.99 L495.72,54.90 L497.77,57.28 L499.82,60.12 L501.87,63.28 L503.92,66.63 L505.98,70.06 L508.03,73.43 L510.08,76.61 L512.13,79.49 L514.18,81.93 L516.23,83.80 L518.42,85.08 L520.61,85.68 L522.80,85.71 L524.99,85.29 L527.18,84.52 L529.38,83.52 L531.57,82.40 L533.76,81.26 L535.95,80.23 L538.14,79.40 L540.08,78.92 L542.01,78.66 L543.95,78.61 L545.88,78.75 L547.82,79.04 L549.76,79.47 L551.69,80.01 L553.63,80.65 L555.56,81.35 L557.50,82.10 L559.58,82.93 L561.65,83.74 L563.73,84.51 L565.80,85.20 L567.88,85.78 L569.96,86.21 L572.03,86.45 L574.11,86.47 L576.18,86.23 L578.26,85.70 L580.49,84.79 L582.72,83.57 L584.95,82.14 L587.18,80.56 L589.41,78.92 L591.65,77.30 L593.88,75.76 L596.11,74.40 L598.34,73.29 L600.57,72.50 L602.63,72.12 L604.69,72.04 L606.75,72.25 L608.81,72.70 L610.88,73.37 L612.94,74.21 L615.00,75.20 L617.06,76.30 L619.12,77.48 L621.18,78.70 L623.18,79.90 L625.18,81.07 L627.18,82.19 L629.18,83.22 L631.19,84.13 L633.19,84.88 L635.19,85.45 L637.19,85.80 L639.19,85.89 L641.19,85.70 L643.43,85.12 L645.67,84.18 L647.91,82.92 L650.15,81.38 L652.39,79.60 L654.64,77.62 L656.88,75.48 L659.12,73.22 L661.36,70.88 L663.60,68.50" fill="none" stroke="#ff0000" stroke-width="1.1"/>
<circle cx="53.21" cy="118.70" r="3.45" fill="url(#ball)"/>
<circle cx="75.12" cy="133.50" r="3.45" fill="url(#ball)"/>
<circle cx="95.93" cy="124.80" r="3.45" fill="url(#ball)"/>
<circle cx="117.34" cy="121.30" r="3.45" fill="url(#ball)"/>
<circle cx="137.60" cy="116.20" r="3.45" fill="url(#ball)"/>
<circle cx="158.16" cy="96.70" r="3.45" fill="url(#ball)"/>
<circle cx="179.27" cy="95.50" r="3.45" fill="url(#ball)"/>
<circle cx="201.98" cy="99.90" r="3.45" fill="url(#ball)"/>
<circle cx="221.29" cy="97.40" r="3.45" fill="url(#ball)"/>
<circle cx="242.10" cy="77.80" r="3.45" fill="url(#ball)"/>
<circle cx="263.31" cy="89.00" r="3.45" fill="url(#ball)"/>
<circle cx="285.12" cy="90.80" r="3.45" fill="url(#ball)"/>
<circle cx="305.43" cy="96.50" r="3.45" fill="url(#ball)"/>
<circle cx="326.94" cy="94.70" r="3.45" fill="url(#ball)"/>
<circle cx="348.30" cy="92.90" r="3.45" fill="url(#ball)"/>
<circle cx="369.26" cy="96.40" r="3.45" fill="url(#ball)"/>
<circle cx="389.07" cy="73.70" r="3.45" fill="url(#ball)"/>
<circle cx="410.48" cy="85.60" r="3.45" fill="url(#ball)"/>
<circle cx="431.49" cy="58.20" r="3.45" fill="url(#ball)"/>
<circle cx="453.50" cy="62.40" r="3.45" fill="url(#ball)"/>
<circle cx="474.21" cy="54.90" r="3.45" fill="url(#ball)"/>
<circle cx="495.72" cy="54.90" r="3.45" fill="url(#ball)"/>
<circle cx="516.23" cy="83.80" r="3.45" fill="url(#ball)"/>
<circle cx="538.14" cy="79.40" r="3.45" fill="url(#ball)"/>
<circle cx="557.50" cy="82.10" r="3.45" fill="url(#ball)"/>
<circle cx="578.26" cy="85.70" r="3.45" fill="url(#ball)"/>
<circle cx="600.57" cy="72.50" r="3.45" fill="url(#ball)"/>
<circle cx="621.18" cy="78.70" r="3.45" fill="url(#ball)"/>
<circle cx="641.19" cy="85.70" r="3.45" fill="url(#ball)"/>
<circle cx="663.60" cy="68.50" r="3.45" fill="url(#ball)"/>
<g stroke="#000" stroke-width="1.1" fill="none">
<path d="M33.30,20.3 V155.5 M27.4,150.40 H685"/>
<path d="M27.4,150.40 H33.30"/>
<path d="M30.2,141.11 H33.30"/>
<path d="M27.4,131.81 H33.30"/>
<path d="M30.2,122.52 H33.30"/>
<path d="M27.4,113.23 H33.30"/>
<path d="M30.2,103.94 H33.30"/>
<path d="M27.4,94.64 H33.30"/>
<path d="M30.2,85.35 H33.30"/>
<path d="M27.4,76.06 H33.30"/>
<path d="M30.2,66.76 H33.30"/>
<path d="M27.4,57.47 H33.30"/>
<path d="M30.2,48.18 H33.30"/>
<path d="M27.4,38.88 H33.30"/>
<path d="M30.2,29.59 H33.30"/>
<path d="M27.4,20.30 H33.30"/>
<path d="M33.30,150.40 V155.5"/>
<path d="M54.31,150.40 V152.7"/>
<path d="M75.32,150.40 V155.5"/>
<path d="M96.33,150.40 V152.7"/>
<path d="M117.34,150.40 V155.5"/>
<path d="M138.35,150.40 V152.7"/>
<path d="M159.36,150.40 V155.5"/>
<path d="M180.37,150.40 V152.7"/>
<path d="M201.38,150.40 V155.5"/>
<path d="M222.39,150.40 V152.7"/>
<path d="M243.40,150.40 V155.5"/>
<path d="M264.41,150.40 V152.7"/>
<path d="M285.42,150.40 V155.5"/>
<path d="M306.43,150.40 V152.7"/>
<path d="M327.44,150.40 V155.5"/>
<path d="M348.45,150.40 V152.7"/>
<path d="M369.46,150.40 V155.5"/>
<path d="M390.47,150.40 V152.7"/>
<path d="M411.48,150.40 V155.5"/>
<path d="M432.49,150.40 V152.7"/>
<path d="M453.50,150.40 V155.5"/>
<path d="M474.51,150.40 V152.7"/>
<path d="M495.52,150.40 V155.5"/>
<path d="M516.53,150.40 V152.7"/>
<path d="M537.54,150.40 V155.5"/>
<path d="M558.55,150.40 V152.7"/>
<path d="M579.56,150.40 V155.5"/>
<path d="M600.57,150.40 V152.7"/>
<path d="M621.58,150.40 V155.5"/>
<path d="M642.59,150.40 V152.7"/>
<path d="M663.60,150.40 V155.5"/>
<path d="M684.61,150.40 V152.7"/>
</g>
<g font-family="Liberation Serif" font-size="8.6" fill="#111" text-anchor="end">
<text x="23" y="153.30">0.0025</text>
<text x="23" y="134.71">0.0050</text>
<text x="23" y="116.13">0.0075</text>
<text x="23" y="97.54">0.0100</text>
<text x="23" y="78.96">0.0125</text>
<text x="23" y="60.37">0.0150</text>
<text x="23" y="41.78">0.0175</text>
<text x="23" y="23.20">0.0200</text>
</g>
<g font-family="Liberation Serif" font-size="8.2" fill="#111" text-anchor="middle">
<text x="33.30" y="166.6">0</text>
<text x="75.32" y="166.6">2</text>
<text x="117.34" y="166.6">4</text>
<text x="159.36" y="166.6">6</text>
<text x="201.38" y="166.6">8</text>
<text x="243.40" y="166.6">10</text>
<text x="285.42" y="166.6">12</text>
<text x="327.44" y="166.6">14</text>
<text x="369.46" y="166.6">16</text>
<text x="411.48" y="166.6">18</text>
<text x="453.50" y="166.6">20</text>
<text x="495.52" y="166.6">22</text>
<text x="537.54" y="166.6">24</text>
<text x="579.56" y="166.6">26</text>
<text x="621.58" y="166.6">28</text>
<text x="663.60" y="166.6">30</text>
</g>
<text x="3.8" y="12.2" font-family="Liberation Serif" font-size="9.6" fill="#111" textLength="22.2" lengthAdjust="spacingAndGlyphs">(mm)</text>
<text x="346.4" y="175.0" font-family="Liberation Serif" font-size="8.6" fill="#111" textLength="46.7" lengthAdjust="spacingAndGlyphs">(gear tooth)</text>
<rect x="458.9" y="0.40" width="14.4" height="6.6" fill="#eaf6fb" stroke="#3fb0ff" stroke-width="1.1"/>
<text x="477.7" y="7.00" font-family="Liberation Serif" font-size="7.9" fill="#222">Total accumulated pitch deviation on the left tooth flank of gear 1</text>
<rect x="458.9" y="10.43" width="14.4" height="6.6" fill="#d8f2d8" stroke="#44ee44" stroke-width="1.1"/>
<text x="477.7" y="17.03" font-family="Liberation Serif" font-size="7.9" fill="#222">Total accumulated pitch deviation on the left tooth flank of gear 2</text>
<rect x="458.9" y="20.46" width="14.4" height="6.6" fill="#fdf0e6" stroke="#ffa868" stroke-width="1.1"/>
<text x="477.7" y="27.06" font-family="Liberation Serif" font-size="7.9" fill="#222">Total accumulated pitch deviation on the left tooth flank of gear 3</text>
<rect x="458.9" y="30.49" width="14.4" height="6.6" fill="#f0e6fb" stroke="#b98cff" stroke-width="1.1"/>
<text x="477.7" y="37.09" font-family="Liberation Serif" font-size="7.9" fill="#222">Total accumulated pitch deviation on the left tooth flank of gear 4</text>
<rect x="458.9" y="40.52" width="14.4" height="6.6" fill="#fbe4e4" stroke="#ff2020" stroke-width="1.1"/>
<text x="477.7" y="47.12" font-family="Liberation Serif" font-size="7.9" fill="#222">DA-LSTM prediction results</text>
<text x="11" y="201.2" font-family="Liberation Serif" font-size="15.4" fill="#111" textLength="665" lengthAdjust="spacingAndGlyphs">(a) Comparison of raw data and predicted curves for total cumulative pitch deviation on the left tooth flanks</text>
<linearGradient id="gf0" gradientUnits="userSpaceOnUse" x1="0" y1="230.6" x2="0" y2="299.9"><stop offset="0" stop-color="#badb9b"/><stop offset="0.55" stop-color="#dcedc9"/><stop offset="1" stop-color="#fbfef1"/></linearGradient>
<path d="M112.80,266.00 C114.27,267.25 118.28,271.08 121.60,273.50 C124.92,275.92 129.47,279.20 132.70,280.50 C135.93,281.80 137.75,281.53 141.00,281.30 C144.25,281.07 148.48,280.02 152.20,279.10 C155.92,278.18 159.62,277.42 163.30,275.80 C166.98,274.18 170.62,271.48 174.30,269.40 C177.98,267.32 181.70,264.68 185.40,263.30 C189.10,261.92 192.80,261.62 196.50,261.10 C200.20,260.58 204.35,260.43 207.60,260.20 C210.85,259.97 212.77,259.55 216.00,259.70 C219.23,259.85 222.85,260.50 227.00,261.10 C231.15,261.70 236.73,263.30 240.90,263.30 C245.07,263.30 248.30,262.48 252.00,261.10 C255.70,259.72 259.63,256.48 263.10,255.00 C266.57,253.52 269.57,252.20 272.80,252.20 C276.03,252.20 278.62,253.90 282.50,255.00 C286.38,256.10 291.98,257.78 296.10,258.80 C300.22,259.82 303.50,260.63 307.20,261.10 C310.90,261.57 314.60,261.70 318.30,261.60 C322.00,261.50 325.70,260.97 329.40,260.50 C333.10,260.03 336.35,259.30 340.50,258.80 C344.65,258.30 349.68,258.13 354.30,257.50 C358.92,256.87 363.57,256.02 368.20,255.00 C372.83,253.98 377.93,252.33 382.10,251.40 C386.27,250.47 389.97,249.63 393.20,249.40 C396.43,249.17 398.73,249.82 401.50,250.00 C404.27,250.18 407.03,251.07 409.80,250.50 C412.57,249.93 414.87,248.30 418.10,246.60 C421.33,244.90 425.50,242.28 429.20,240.30 C432.90,238.32 436.60,236.00 440.30,234.70 C444.00,233.40 447.70,232.82 451.40,232.50 C455.10,232.18 458.38,232.30 462.50,232.80 C466.62,233.30 471.98,234.12 476.10,235.50 C480.22,236.88 483.50,239.33 487.20,241.10 C490.90,242.87 495.07,245.32 498.30,246.10 C501.53,246.88 503.60,246.08 506.60,245.80 C509.60,245.52 513.07,243.93 516.30,244.40 C519.53,244.87 522.53,247.07 526.00,248.60 C529.47,250.13 533.87,252.68 537.10,253.60 C540.33,254.52 542.17,254.38 545.40,254.10 C548.63,253.82 552.80,252.68 556.50,251.90 C560.20,251.12 563.90,249.82 567.60,249.40 C571.30,248.98 575.00,249.22 578.70,249.40 C582.40,249.58 586.10,250.58 589.80,250.50 C593.50,250.42 597.20,249.63 600.90,248.90 C604.60,248.17 608.38,247.03 612.00,246.10 C615.62,245.17 620.83,243.77 622.60,243.30 L622.60,299.90 L112.80,299.90 Z" fill="url(#gf0)"/>
<path d="M112.80,266.00 C114.27,267.25 118.28,271.08 121.60,273.50 C124.92,275.92 129.47,279.20 132.70,280.50 C135.93,281.80 137.75,281.53 141.00,281.30 C144.25,281.07 148.48,280.02 152.20,279.10 C155.92,278.18 159.62,277.42 163.30,275.80 C166.98,274.18 170.62,271.48 174.30,269.40 C177.98,267.32 181.70,264.68 185.40,263.30 C189.10,261.92 192.80,261.62 196.50,261.10 C200.20,260.58 204.35,260.43 207.60,260.20 C210.85,259.97 212.77,259.55 216.00,259.70 C219.23,259.85 222.85,260.50 227.00,261.10 C231.15,261.70 236.73,263.30 240.90,263.30 C245.07,263.30 248.30,262.48 252.00,261.10 C255.70,259.72 259.63,256.48 263.10,255.00 C266.57,253.52 269.57,252.20 272.80,252.20 C276.03,252.20 278.62,253.90 282.50,255.00 C286.38,256.10 291.98,257.78 296.10,258.80 C300.22,259.82 303.50,260.63 307.20,261.10 C310.90,261.57 314.60,261.70 318.30,261.60 C322.00,261.50 325.70,260.97 329.40,260.50 C333.10,260.03 336.35,259.30 340.50,258.80 C344.65,258.30 349.68,258.13 354.30,257.50 C358.92,256.87 363.57,256.02 368.20,255.00 C372.83,253.98 377.93,252.33 382.10,251.40 C386.27,250.47 389.97,249.63 393.20,249.40 C396.43,249.17 398.73,249.82 401.50,250.00 C404.27,250.18 407.03,251.07 409.80,250.50 C412.57,249.93 414.87,248.30 418.10,246.60 C421.33,244.90 425.50,242.28 429.20,240.30 C432.90,238.32 436.60,236.00 440.30,234.70 C444.00,233.40 447.70,232.82 451.40,232.50 C455.10,232.18 458.38,232.30 462.50,232.80 C466.62,233.30 471.98,234.12 476.10,235.50 C480.22,236.88 483.50,239.33 487.20,241.10 C490.90,242.87 495.07,245.32 498.30,246.10 C501.53,246.88 503.60,246.08 506.60,245.80 C509.60,245.52 513.07,243.93 516.30,244.40 C519.53,244.87 522.53,247.07 526.00,248.60 C529.47,250.13 533.87,252.68 537.10,253.60 C540.33,254.52 542.17,254.38 545.40,254.10 C548.63,253.82 552.80,252.68 556.50,251.90 C560.20,251.12 563.90,249.82 567.60,249.40 C571.30,248.98 575.00,249.22 578.70,249.40 C582.40,249.58 586.10,250.58 589.80,250.50 C593.50,250.42 597.20,249.63 600.90,248.90 C604.60,248.17 608.38,247.03 612.00,246.10 C615.62,245.17 620.83,243.77 622.60,243.30" fill="none" stroke="#3cb043" stroke-width="1.5"/>
<g stroke="#111" stroke-width="0.9"><path d="M112.80,230.60 h4.00"/><path d="M112.80,234.06 h2.20"/><path d="M112.80,237.53 h2.20"/><path d="M112.80,241.00 h2.20"/><path d="M112.80,244.46 h2.20"/><path d="M112.80,247.92 h4.00"/><path d="M112.80,251.39 h2.20"/><path d="M112.80,254.85 h2.20"/><path d="M112.80,258.32 h2.20"/><path d="M112.80,261.78 h2.20"/><path d="M112.80,265.25 h4.00"/><path d="M112.80,268.71 h2.20"/><path d="M112.80,272.18 h2.20"/><path d="M112.80,275.64 h2.20"/><path d="M112.80,279.11 h2.20"/><path d="M112.80,282.57 h4.00"/><path d="M112.80,286.04 h2.20"/><path d="M112.80,289.50 h2.20"/><path d="M112.80,292.97 h2.20"/><path d="M112.80,296.43 h2.20"/><path d="M112.80,299.90 h4.00"/></g><g stroke="#9a9a9a" stroke-width="0.8"><path d="M112.60,299.90 v-4.2"/><path d="M114.55,299.90 v-1.8"/><path d="M116.51,299.90 v-1.8"/><path d="M118.46,299.90 v-1.8"/><path d="M120.42,299.90 v-1.8"/><path d="M122.37,299.90 v-1.8"/><path d="M124.33,299.90 v-1.8"/><path d="M126.28,299.90 v-1.8"/><path d="M128.24,299.90 v-1.8"/><path d="M130.19,299.90 v-4.2"/><path d="M132.14,299.90 v-1.8"/><path d="M134.10,299.90 v-1.8"/><path d="M136.05,299.90 v-1.8"/><path d="M138.01,299.90 v-1.8"/><path d="M139.96,299.90 v-1.8"/><path d="M141.92,299.90 v-1.8"/><path d="M143.87,299.90 v-1.8"/><path d="M145.83,299.90 v-1.8"/><path d="M147.78,299.90 v-4.2"/><path d="M149.73,299.90 v-1.8"/><path d="M151.69,299.90 v-1.8"/><path d="M153.64,299.90 v-1.8"/><path d="M155.60,299.90 v-1.8"/><path d="M157.55,299.90 v-1.8"/><path d="M159.51,299.90 v-1.8"/><path d="M161.46,299.90 v-1.8"/><path d="M163.42,299.90 v-1.8"/><path d="M165.37,299.90 v-4.2"/><path d="M167.32,299.90 v-1.8"/><path d="M169.28,299.90 v-1.8"/><path d="M171.23,299.90 v-1.8"/><path d="M173.19,299.90 v-1.8"/><path d="M175.14,299.90 v-1.8"/><path d="M177.10,299.90 v-1.8"/><path d="M179.05,299.90 v-1.8"/><path d="M181.01,299.90 v-1.8"/><path d="M182.96,299.90 v-4.2"/><path d="M184.91,299.90 v-1.8"/><path d="M186.87,299.90 v-1.8"/><path d="M188.82,299.90 v-1.8"/><path d="M190.78,299.90 v-1.8"/><path d="M192.73,299.90 v-1.8"/><path d="M194.69,299.90 v-1.8"/><path d="M196.64,299.90 v-1.8"/><path d="M198.60,299.90 v-1.8"/><path d="M200.55,299.90 v-4.2"/><path d="M202.50,299.90 v-1.8"/><path d="M204.46,299.90 v-1.8"/><path d="M206.41,299.90 v-1.8"/><path d="M208.37,299.90 v-1.8"/><path d="M210.32,299.90 v-1.8"/><path d="M212.28,299.90 v-1.8"/><path d="M214.23,299.90 v-1.8"/><path d="M216.19,299.90 v-1.8"/><path d="M218.14,299.90 v-4.2"/><path d="M220.09,299.90 v-1.8"/><path d="M222.05,299.90 v-1.8"/><path d="M224.00,299.90 v-1.8"/><path d="M225.96,299.90 v-1.8"/><path d="M227.91,299.90 v-1.8"/><path d="M229.87,299.90 v-1.8"/><path d="M231.82,299.90 v-1.8"/><path d="M233.78,299.90 v-1.8"/><path d="M235.73,299.90 v-4.2"/><path d="M237.68,299.90 v-1.8"/><path d="M239.64,299.90 v-1.8"/><path d="M241.59,299.90 v-1.8"/><path d="M243.55,299.90 v-1.8"/><path d="M245.50,299.90 v-1.8"/><path d="M247.46,299.90 v-1.8"/><path d="M249.41,299.90 v-1.8"/><path d="M251.37,299.90 v-1.8"/><path d="M253.32,299.90 v-4.2"/><path d="M255.27,299.90 v-1.8"/><path d="M257.23,299.90 v-1.8"/><path d="M259.18,299.90 v-1.8"/><path d="M261.14,299.90 v-1.8"/><path d="M263.09,299.90 v-1.8"/><path d="M265.05,299.90 v-1.8"/><path d="M267.00,299.90 v-1.8"/><path d="M268.96,299.90 v-1.8"/><path d="M270.91,299.90 v-4.2"/><path d="M272.86,299.90 v-1.8"/><path d="M274.82,299.90 v-1.8"/><path d="M276.77,299.90 v-1.8"/><path d="M278.73,299.90 v-1.8"/><path d="M280.68,299.90 v-1.8"/><path d="M282.64,299.90 v-1.8"/><path d="M284.59,299.90 v-1.8"/><path d="M286.55,299.90 v-1.8"/><path d="M288.50,299.90 v-4.2"/><path d="M290.45,299.90 v-1.8"/><path d="M292.41,299.90 v-1.8"/><path d="M294.36,299.90 v-1.8"/><path d="M296.32,299.90 v-1.8"/><path d="M298.27,299.90 v-1.8"/><path d="M300.23,299.90 v-1.8"/><path d="M302.18,299.90 v-1.8"/><path d="M304.14,299.90 v-1.8"/><path d="M306.09,299.90 v-4.2"/><path d="M308.04,299.90 v-1.8"/><path d="M310.00,299.90 v-1.8"/><path d="M311.95,299.90 v-1.8"/><path d="M313.91,299.90 v-1.8"/><path d="M315.86,299.90 v-1.8"/><path d="M317.82,299.90 v-1.8"/><path d="M319.77,299.90 v-1.8"/><path d="M321.73,299.90 v-1.8"/><path d="M323.68,299.90 v-4.2"/><path d="M325.63,299.90 v-1.8"/><path d="M327.59,299.90 v-1.8"/><path d="M329.54,299.90 v-1.8"/><path d="M331.50,299.90 v-1.8"/><path d="M333.45,299.90 v-1.8"/><path d="M335.41,299.90 v-1.8"/><path d="M337.36,299.90 v-1.8"/><path d="M339.32,299.90 v-1.8"/><path d="M341.27,299.90 v-4.2"/><path d="M343.22,299.90 v-1.8"/><path d="M345.18,299.90 v-1.8"/><path d="M347.13,299.90 v-1.8"/><path d="M349.09,299.90 v-1.8"/><path d="M351.04,299.90 v-1.8"/><path d="M353.00,299.90 v-1.8"/><path d="M354.95,299.90 v-1.8"/><path d="M356.91,299.90 v-1.8"/><path d="M358.86,299.90 v-4.2"/><path d="M360.81,299.90 v-1.8"/><path d="M362.77,299.90 v-1.8"/><path d="M364.72,299.90 v-1.8"/><path d="M366.68,299.90 v-1.8"/><path d="M368.63,299.90 v-1.8"/><path d="M370.59,299.90 v-1.8"/><path d="M372.54,299.90 v-1.8"/><path d="M374.50,299.90 v-1.8"/><path d="M376.45,299.90 v-4.2"/><path d="M378.40,299.90 v-1.8"/><path d="M380.36,299.90 v-1.8"/><path d="M382.31,299.90 v-1.8"/><path d="M384.27,299.90 v-1.8"/><path d="M386.22,299.90 v-1.8"/><path d="M388.18,299.90 v-1.8"/><path d="M390.13,299.90 v-1.8"/><path d="M392.09,299.90 v-1.8"/><path d="M394.04,299.90 v-4.2"/><path d="M395.99,299.90 v-1.8"/><path d="M397.95,299.90 v-1.8"/><path d="M399.90,299.90 v-1.8"/><path d="M401.86,299.90 v-1.8"/><path d="M403.81,299.90 v-1.8"/><path d="M405.77,299.90 v-1.8"/><path d="M407.72,299.90 v-1.8"/><path d="M409.68,299.90 v-1.8"/><path d="M411.63,299.90 v-4.2"/><path d="M413.58,299.90 v-1.8"/><path d="M415.54,299.90 v-1.8"/><path d="M417.49,299.90 v-1.8"/><path d="M419.45,299.90 v-1.8"/><path d="M421.40,299.90 v-1.8"/><path d="M423.36,299.90 v-1.8"/><path d="M425.31,299.90 v-1.8"/><path d="M427.27,299.90 v-1.8"/><path d="M429.22,299.90 v-4.2"/><path d="M431.17,299.90 v-1.8"/><path d="M433.13,299.90 v-1.8"/><path d="M435.08,299.90 v-1.8"/><path d="M437.04,299.90 v-1.8"/><path d="M438.99,299.90 v-1.8"/><path d="M440.95,299.90 v-1.8"/><path d="M442.90,299.90 v-1.8"/><path d="M444.86,299.90 v-1.8"/><path d="M446.81,299.90 v-4.2"/><path d="M448.76,299.90 v-1.8"/><path d="M450.72,299.90 v-1.8"/><path d="M452.67,299.90 v-1.8"/><path d="M454.63,299.90 v-1.8"/><path d="M456.58,299.90 v-1.8"/><path d="M458.54,299.90 v-1.8"/><path d="M460.49,299.90 v-1.8"/><path d="M462.45,299.90 v-1.8"/><path d="M464.40,299.90 v-4.2"/><path d="M466.35,299.90 v-1.8"/><path d="M468.31,299.90 v-1.8"/><path d="M470.26,299.90 v-1.8"/><path d="M472.22,299.90 v-1.8"/><path d="M474.17,299.90 v-1.8"/><path d="M476.13,299.90 v-1.8"/><path d="M478.08,299.90 v-1.8"/><path d="M480.04,299.90 v-1.8"/><path d="M481.99,299.90 v-4.2"/><path d="M483.94,299.90 v-1.8"/><path d="M485.90,299.90 v-1.8"/><path d="M487.85,299.90 v-1.8"/><path d="M489.81,299.90 v-1.8"/><path d="M491.76,299.90 v-1.8"/><path d="M493.72,299.90 v-1.8"/><path d="M495.67,299.90 v-1.8"/><path d="M497.63,299.90 v-1.8"/><path d="M499.58,299.90 v-4.2"/><path d="M501.53,299.90 v-1.8"/><path d="M503.49,299.90 v-1.8"/><path d="M505.44,299.90 v-1.8"/><path d="M507.40,299.90 v-1.8"/><path d="M509.35,299.90 v-1.8"/><path d="M511.31,299.90 v-1.8"/><path d="M513.26,299.90 v-1.8"/><path d="M515.22,299.90 v-1.8"/><path d="M517.17,299.90 v-4.2"/><path d="M519.12,299.90 v-1.8"/><path d="M521.08,299.90 v-1.8"/><path d="M523.03,299.90 v-1.8"/><path d="M524.99,299.90 v-1.8"/><path d="M526.94,299.90 v-1.8"/><path d="M528.90,299.90 v-1.8"/><path d="M530.85,299.90 v-1.8"/><path d="M532.81,299.90 v-1.8"/><path d="M534.76,299.90 v-4.2"/><path d="M536.71,299.90 v-1.8"/><path d="M538.67,299.90 v-1.8"/><path d="M540.62,299.90 v-1.8"/><path d="M542.58,299.90 v-1.8"/><path d="M544.53,299.90 v-1.8"/><path d="M546.49,299.90 v-1.8"/><path d="M548.44,299.90 v-1.8"/><path d="M550.40,299.90 v-1.8"/><path d="M552.35,299.90 v-4.2"/><path d="M554.30,299.90 v-1.8"/><path d="M556.26,299.90 v-1.8"/><path d="M558.21,299.90 v-1.8"/><path d="M560.17,299.90 v-1.8"/><path d="M562.12,299.90 v-1.8"/><path d="M564.08,299.90 v-1.8"/><path d="M566.03,299.90 v-1.8"/><path d="M567.99,299.90 v-1.8"/><path d="M569.94,299.90 v-4.2"/><path d="M571.89,299.90 v-1.8"/><path d="M573.85,299.90 v-1.8"/><path d="M575.80,299.90 v-1.8"/><path d="M577.76,299.90 v-1.8"/><path d="M579.71,299.90 v-1.8"/><path d="M581.67,299.90 v-1.8"/><path d="M583.62,299.90 v-1.8"/><path d="M585.58,299.90 v-1.8"/><path d="M587.53,299.90 v-4.2"/><path d="M589.48,299.90 v-1.8"/><path d="M591.44,299.90 v-1.8"/><path d="M593.39,299.90 v-1.8"/><path d="M595.35,299.90 v-1.8"/><path d="M597.30,299.90 v-1.8"/><path d="M599.26,299.90 v-1.8"/><path d="M601.21,299.90 v-1.8"/><path d="M603.17,299.90 v-1.8"/><path d="M605.12,299.90 v-4.2"/><path d="M607.07,299.90 v-1.8"/><path d="M609.03,299.90 v-1.8"/><path d="M610.98,299.90 v-1.8"/><path d="M612.94,299.90 v-1.8"/><path d="M614.89,299.90 v-1.8"/><path d="M616.85,299.90 v-1.8"/><path d="M618.80,299.90 v-1.8"/><path d="M620.76,299.90 v-1.8"/><path d="M622.71,299.90 v-4.2"/></g>
<path d="M112.80,299.90 H622.60" stroke="#7a7a7a" stroke-width="1.00"/>
<text x="108" y="232.60" font-family="Liberation Serif" font-size="6" fill="#222" text-anchor="end">0.0148</text>
<text x="108" y="249.92" font-family="Liberation Serif" font-size="6" fill="#222" text-anchor="end">0.0111</text>
<text x="108" y="267.25" font-family="Liberation Serif" font-size="6" fill="#222" text-anchor="end">0.0074</text>
<text x="108" y="284.57" font-family="Liberation Serif" font-size="6" fill="#222" text-anchor="end">0.0037</text>
<text transform="translate(62.60,265.25) rotate(-90)" font-family="Liberation Serif" font-weight="bold" font-size="6.2" fill="#111" text-anchor="middle" dominant-baseline="central">Accumulated total</text>
<text transform="translate(70.70,265.25) rotate(-90)" font-family="Liberation Serif" font-weight="bold" font-size="6.2" fill="#111" text-anchor="middle" dominant-baseline="central">deviation of tooth</text>
<text transform="translate(78.70,265.25) rotate(-90)" font-family="Liberation Serif" font-weight="bold" font-size="6.2" fill="#111" text-anchor="middle" dominant-baseline="central">pitch on the left tooth</text>
<text transform="translate(86.10,265.25) rotate(-90)" font-family="Liberation Serif" font-weight="bold" font-size="6.2" fill="#111" text-anchor="middle" dominant-baseline="central">face of gear 1</text>
<linearGradient id="gf1" gradientUnits="userSpaceOnUse" x1="0" y1="299.9" x2="0" y2="369.3"><stop offset="0" stop-color="#badb9b"/><stop offset="0.55" stop-color="#dcedc9"/><stop offset="1" stop-color="#fbfef1"/></linearGradient>
<path d="M112.80,345.80 C114.73,345.93 120.62,346.28 124.40,346.60 C128.18,346.92 131.80,347.52 135.50,347.70 C139.20,347.88 142.90,348.02 146.60,347.70 C150.30,347.38 154.00,347.18 157.70,345.80 C161.40,344.42 165.10,341.63 168.80,339.40 C172.50,337.17 176.20,334.07 179.90,332.40 C183.60,330.73 187.30,330.08 191.00,329.40 C194.70,328.72 198.40,328.85 202.10,328.30 C205.80,327.75 209.50,327.40 213.20,326.10 C216.90,324.80 220.60,322.45 224.30,320.50 C228.00,318.55 231.70,315.88 235.40,314.40 C239.10,312.92 242.80,312.15 246.50,311.60 C250.20,311.05 253.90,311.10 257.60,311.10 C261.30,311.10 265.00,311.32 268.70,311.60 C272.40,311.88 276.25,312.37 279.80,312.80 C283.35,313.23 287.28,313.83 290.00,314.20 C292.72,314.57 293.23,314.73 296.10,315.00 C298.97,315.27 303.50,315.98 307.20,315.80 C310.90,315.62 314.60,314.60 318.30,313.90 C322.00,313.20 325.70,312.35 329.40,311.60 C333.10,310.85 336.35,310.18 340.50,309.40 C344.65,308.62 350.15,307.22 354.30,306.90 C358.45,306.58 361.23,307.17 365.40,307.50 C369.57,307.83 375.13,309.00 379.30,308.90 C383.47,308.80 386.70,307.68 390.40,306.90 C394.10,306.12 397.80,304.88 401.50,304.20 C405.20,303.52 408.90,302.85 412.60,302.80 C416.30,302.75 420.00,303.35 423.70,303.90 C427.40,304.45 431.10,305.42 434.80,306.10 C438.50,306.78 442.20,307.45 445.90,308.00 C449.60,308.55 452.98,309.03 457.00,309.40 C461.02,309.77 465.90,309.97 470.00,310.20 C474.10,310.43 476.88,310.47 481.60,310.80 C486.32,311.13 492.75,311.50 498.30,312.20 C503.85,312.90 509.82,313.93 514.90,315.00 C519.98,316.07 524.63,317.68 528.80,318.60 C532.97,319.52 536.20,320.13 539.90,320.50 C543.60,320.87 547.30,320.62 551.00,320.80 C554.70,320.98 558.40,321.13 562.10,321.60 C565.80,322.07 569.50,322.90 573.20,323.60 C576.90,324.30 580.60,325.43 584.30,325.80 C588.00,326.17 591.70,326.03 595.40,325.80 C599.10,325.57 601.97,324.92 606.50,324.40 C611.03,323.88 619.92,322.98 622.60,322.70 L622.60,369.30 L112.80,369.30 Z" fill="url(#gf1)"/>
<path d="M112.80,345.80 C114.73,345.93 120.62,346.28 124.40,346.60 C128.18,346.92 131.80,347.52 135.50,347.70 C139.20,347.88 142.90,348.02 146.60,347.70 C150.30,347.38 154.00,347.18 157.70,345.80 C161.40,344.42 165.10,341.63 168.80,339.40 C172.50,337.17 176.20,334.07 179.90,332.40 C183.60,330.73 187.30,330.08 191.00,329.40 C194.70,328.72 198.40,328.85 202.10,328.30 C205.80,327.75 209.50,327.40 213.20,326.10 C216.90,324.80 220.60,322.45 224.30,320.50 C228.00,318.55 231.70,315.88 235.40,314.40 C239.10,312.92 242.80,312.15 246.50,311.60 C250.20,311.05 253.90,311.10 257.60,311.10 C261.30,311.10 265.00,311.32 268.70,311.60 C272.40,311.88 276.25,312.37 279.80,312.80 C283.35,313.23 287.28,313.83 290.00,314.20 C292.72,314.57 293.23,314.73 296.10,315.00 C298.97,315.27 303.50,315.98 307.20,315.80 C310.90,315.62 314.60,314.60 318.30,313.90 C322.00,313.20 325.70,312.35 329.40,311.60 C333.10,310.85 336.35,310.18 340.50,309.40 C344.65,308.62 350.15,307.22 354.30,306.90 C358.45,306.58 361.23,307.17 365.40,307.50 C369.57,307.83 375.13,309.00 379.30,308.90 C383.47,308.80 386.70,307.68 390.40,306.90 C394.10,306.12 397.80,304.88 401.50,304.20 C405.20,303.52 408.90,302.85 412.60,302.80 C416.30,302.75 420.00,303.35 423.70,303.90 C427.40,304.45 431.10,305.42 434.80,306.10 C438.50,306.78 442.20,307.45 445.90,308.00 C449.60,308.55 452.98,309.03 457.00,309.40 C461.02,309.77 465.90,309.97 470.00,310.20 C474.10,310.43 476.88,310.47 481.60,310.80 C486.32,311.13 492.75,311.50 498.30,312.20 C503.85,312.90 509.82,313.93 514.90,315.00 C519.98,316.07 524.63,317.68 528.80,318.60 C532.97,319.52 536.20,320.13 539.90,320.50 C543.60,320.87 547.30,320.62 551.00,320.80 C554.70,320.98 558.40,321.13 562.10,321.60 C565.80,322.07 569.50,322.90 573.20,323.60 C576.90,324.30 580.60,325.43 584.30,325.80 C588.00,326.17 591.70,326.03 595.40,325.80 C599.10,325.57 601.97,324.92 606.50,324.40 C611.03,323.88 619.92,322.98 622.60,322.70" fill="none" stroke="#3cb043" stroke-width="1.5"/>
<g stroke="#111" stroke-width="0.9"><path d="M112.80,299.90 h4.00"/><path d="M112.80,303.37 h2.20"/><path d="M112.80,306.84 h2.20"/><path d="M112.80,310.31 h2.20"/><path d="M112.80,313.78 h2.20"/><path d="M112.80,317.25 h4.00"/><path d="M112.80,320.72 h2.20"/><path d="M112.80,324.19 h2.20"/><path d="M112.80,327.66 h2.20"/><path d="M112.80,331.13 h2.20"/><path d="M112.80,334.60 h4.00"/><path d="M112.80,338.07 h2.20"/><path d="M112.80,341.54 h2.20"/><path d="M112.80,345.01 h2.20"/><path d="M112.80,348.48 h2.20"/><path d="M112.80,351.95 h4.00"/><path d="M112.80,355.42 h2.20"/><path d="M112.80,358.89 h2.20"/><path d="M112.80,362.36 h2.20"/><path d="M112.80,365.83 h2.20"/><path d="M112.80,369.30 h4.00"/></g><g stroke="#9a9a9a" stroke-width="0.8"><path d="M112.60,369.30 v-4.2"/><path d="M114.55,369.30 v-1.8"/><path d="M116.51,369.30 v-1.8"/><path d="M118.46,369.30 v-1.8"/><path d="M120.42,369.30 v-1.8"/><path d="M122.37,369.30 v-1.8"/><path d="M124.33,369.30 v-1.8"/><path d="M126.28,369.30 v-1.8"/><path d="M128.24,369.30 v-1.8"/><path d="M130.19,369.30 v-4.2"/><path d="M132.14,369.30 v-1.8"/><path d="M134.10,369.30 v-1.8"/><path d="M136.05,369.30 v-1.8"/><path d="M138.01,369.30 v-1.8"/><path d="M139.96,369.30 v-1.8"/><path d="M141.92,369.30 v-1.8"/><path d="M143.87,369.30 v-1.8"/><path d="M145.83,369.30 v-1.8"/><path d="M147.78,369.30 v-4.2"/><path d="M149.73,369.30 v-1.8"/><path d="M151.69,369.30 v-1.8"/><path d="M153.64,369.30 v-1.8"/><path d="M155.60,369.30 v-1.8"/><path d="M157.55,369.30 v-1.8"/><path d="M159.51,369.30 v-1.8"/><path d="M161.46,369.30 v-1.8"/><path d="M163.42,369.30 v-1.8"/><path d="M165.37,369.30 v-4.2"/><path d="M167.32,369.30 v-1.8"/><path d="M169.28,369.30 v-1.8"/><path d="M171.23,369.30 v-1.8"/><path d="M173.19,369.30 v-1.8"/><path d="M175.14,369.30 v-1.8"/><path d="M177.10,369.30 v-1.8"/><path d="M179.05,369.30 v-1.8"/><path d="M181.01,369.30 v-1.8"/><path d="M182.96,369.30 v-4.2"/><path d="M184.91,369.30 v-1.8"/><path d="M186.87,369.30 v-1.8"/><path d="M188.82,369.30 v-1.8"/><path d="M190.78,369.30 v-1.8"/><path d="M192.73,369.30 v-1.8"/><path d="M194.69,369.30 v-1.8"/><path d="M196.64,369.30 v-1.8"/><path d="M198.60,369.30 v-1.8"/><path d="M200.55,369.30 v-4.2"/><path d="M202.50,369.30 v-1.8"/><path d="M204.46,369.30 v-1.8"/><path d="M206.41,369.30 v-1.8"/><path d="M208.37,369.30 v-1.8"/><path d="M210.32,369.30 v-1.8"/><path d="M212.28,369.30 v-1.8"/><path d="M214.23,369.30 v-1.8"/><path d="M216.19,369.30 v-1.8"/><path d="M218.14,369.30 v-4.2"/><path d="M220.09,369.30 v-1.8"/><path d="M222.05,369.30 v-1.8"/><path d="M224.00,369.30 v-1.8"/><path d="M225.96,369.30 v-1.8"/><path d="M227.91,369.30 v-1.8"/><path d="M229.87,369.30 v-1.8"/><path d="M231.82,369.30 v-1.8"/><path d="M233.78,369.30 v-1.8"/><path d="M235.73,369.30 v-4.2"/><path d="M237.68,369.30 v-1.8"/><path d="M239.64,369.30 v-1.8"/><path d="M241.59,369.30 v-1.8"/><path d="M243.55,369.30 v-1.8"/><path d="M245.50,369.30 v-1.8"/><path d="M247.46,369.30 v-1.8"/><path d="M249.41,369.30 v-1.8"/><path d="M251.37,369.30 v-1.8"/><path d="M253.32,369.30 v-4.2"/><path d="M255.27,369.30 v-1.8"/><path d="M257.23,369.30 v-1.8"/><path d="M259.18,369.30 v-1.8"/><path d="M261.14,369.30 v-1.8"/><path d="M263.09,369.30 v-1.8"/><path d="M265.05,369.30 v-1.8"/><path d="M267.00,369.30 v-1.8"/><path d="M268.96,369.30 v-1.8"/><path d="M270.91,369.30 v-4.2"/><path d="M272.86,369.30 v-1.8"/><path d="M274.82,369.30 v-1.8"/><path d="M276.77,369.30 v-1.8"/><path d="M278.73,369.30 v-1.8"/><path d="M280.68,369.30 v-1.8"/><path d="M282.64,369.30 v-1.8"/><path d="M284.59,369.30 v-1.8"/><path d="M286.55,369.30 v-1.8"/><path d="M288.50,369.30 v-4.2"/><path d="M290.45,369.30 v-1.8"/><path d="M292.41,369.30 v-1.8"/><path d="M294.36,369.30 v-1.8"/><path d="M296.32,369.30 v-1.8"/><path d="M298.27,369.30 v-1.8"/><path d="M300.23,369.30 v-1.8"/><path d="M302.18,369.30 v-1.8"/><path d="M304.14,369.30 v-1.8"/><path d="M306.09,369.30 v-4.2"/><path d="M308.04,369.30 v-1.8"/><path d="M310.00,369.30 v-1.8"/><path d="M311.95,369.30 v-1.8"/><path d="M313.91,369.30 v-1.8"/><path d="M315.86,369.30 v-1.8"/><path d="M317.82,369.30 v-1.8"/><path d="M319.77,369.30 v-1.8"/><path d="M321.73,369.30 v-1.8"/><path d="M323.68,369.30 v-4.2"/><path d="M325.63,369.30 v-1.8"/><path d="M327.59,369.30 v-1.8"/><path d="M329.54,369.30 v-1.8"/><path d="M331.50,369.30 v-1.8"/><path d="M333.45,369.30 v-1.8"/><path d="M335.41,369.30 v-1.8"/><path d="M337.36,369.30 v-1.8"/><path d="M339.32,369.30 v-1.8"/><path d="M341.27,369.30 v-4.2"/><path d="M343.22,369.30 v-1.8"/><path d="M345.18,369.30 v-1.8"/><path d="M347.13,369.30 v-1.8"/><path d="M349.09,369.30 v-1.8"/><path d="M351.04,369.30 v-1.8"/><path d="M353.00,369.30 v-1.8"/><path d="M354.95,369.30 v-1.8"/><path d="M356.91,369.30 v-1.8"/><path d="M358.86,369.30 v-4.2"/><path d="M360.81,369.30 v-1.8"/><path d="M362.77,369.30 v-1.8"/><path d="M364.72,369.30 v-1.8"/><path d="M366.68,369.30 v-1.8"/><path d="M368.63,369.30 v-1.8"/><path d="M370.59,369.30 v-1.8"/><path d="M372.54,369.30 v-1.8"/><path d="M374.50,369.30 v-1.8"/><path d="M376.45,369.30 v-4.2"/><path d="M378.40,369.30 v-1.8"/><path d="M380.36,369.30 v-1.8"/><path d="M382.31,369.30 v-1.8"/><path d="M384.27,369.30 v-1.8"/><path d="M386.22,369.30 v-1.8"/><path d="M388.18,369.30 v-1.8"/><path d="M390.13,369.30 v-1.8"/><path d="M392.09,369.30 v-1.8"/><path d="M394.04,369.30 v-4.2"/><path d="M395.99,369.30 v-1.8"/><path d="M397.95,369.30 v-1.8"/><path d="M399.90,369.30 v-1.8"/><path d="M401.86,369.30 v-1.8"/><path d="M403.81,369.30 v-1.8"/><path d="M405.77,369.30 v-1.8"/><path d="M407.72,369.30 v-1.8"/><path d="M409.68,369.30 v-1.8"/><path d="M411.63,369.30 v-4.2"/><path d="M413.58,369.30 v-1.8"/><path d="M415.54,369.30 v-1.8"/><path d="M417.49,369.30 v-1.8"/><path d="M419.45,369.30 v-1.8"/><path d="M421.40,369.30 v-1.8"/><path d="M423.36,369.30 v-1.8"/><path d="M425.31,369.30 v-1.8"/><path d="M427.27,369.30 v-1.8"/><path d="M429.22,369.30 v-4.2"/><path d="M431.17,369.30 v-1.8"/><path d="M433.13,369.30 v-1.8"/><path d="M435.08,369.30 v-1.8"/><path d="M437.04,369.30 v-1.8"/><path d="M438.99,369.30 v-1.8"/><path d="M440.95,369.30 v-1.8"/><path d="M442.90,369.30 v-1.8"/><path d="M444.86,369.30 v-1.8"/><path d="M446.81,369.30 v-4.2"/><path d="M448.76,369.30 v-1.8"/><path d="M450.72,369.30 v-1.8"/><path d="M452.67,369.30 v-1.8"/><path d="M454.63,369.30 v-1.8"/><path d="M456.58,369.30 v-1.8"/><path d="M458.54,369.30 v-1.8"/><path d="M460.49,369.30 v-1.8"/><path d="M462.45,369.30 v-1.8"/><path d="M464.40,369.30 v-4.2"/><path d="M466.35,369.30 v-1.8"/><path d="M468.31,369.30 v-1.8"/><path d="M470.26,369.30 v-1.8"/><path d="M472.22,369.30 v-1.8"/><path d="M474.17,369.30 v-1.8"/><path d="M476.13,369.30 v-1.8"/><path d="M478.08,369.30 v-1.8"/><path d="M480.04,369.30 v-1.8"/><path d="M481.99,369.30 v-4.2"/><path d="M483.94,369.30 v-1.8"/><path d="M485.90,369.30 v-1.8"/><path d="M487.85,369.30 v-1.8"/><path d="M489.81,369.30 v-1.8"/><path d="M491.76,369.30 v-1.8"/><path d="M493.72,369.30 v-1.8"/><path d="M495.67,369.30 v-1.8"/><path d="M497.63,369.30 v-1.8"/><path d="M499.58,369.30 v-4.2"/><path d="M501.53,369.30 v-1.8"/><path d="M503.49,369.30 v-1.8"/><path d="M505.44,369.30 v-1.8"/><path d="M507.40,369.30 v-1.8"/><path d="M509.35,369.30 v-1.8"/><path d="M511.31,369.30 v-1.8"/><path d="M513.26,369.30 v-1.8"/><path d="M515.22,369.30 v-1.8"/><path d="M517.17,369.30 v-4.2"/><path d="M519.12,369.30 v-1.8"/><path d="M521.08,369.30 v-1.8"/><path d="M523.03,369.30 v-1.8"/><path d="M524.99,369.30 v-1.8"/><path d="M526.94,369.30 v-1.8"/><path d="M528.90,369.30 v-1.8"/><path d="M530.85,369.30 v-1.8"/><path d="M532.81,369.30 v-1.8"/><path d="M534.76,369.30 v-4.2"/><path d="M536.71,369.30 v-1.8"/><path d="M538.67,369.30 v-1.8"/><path d="M540.62,369.30 v-1.8"/><path d="M542.58,369.30 v-1.8"/><path d="M544.53,369.30 v-1.8"/><path d="M546.49,369.30 v-1.8"/><path d="M548.44,369.30 v-1.8"/><path d="M550.40,369.30 v-1.8"/><path d="M552.35,369.30 v-4.2"/><path d="M554.30,369.30 v-1.8"/><path d="M556.26,369.30 v-1.8"/><path d="M558.21,369.30 v-1.8"/><path d="M560.17,369.30 v-1.8"/><path d="M562.12,369.30 v-1.8"/><path d="M564.08,369.30 v-1.8"/><path d="M566.03,369.30 v-1.8"/><path d="M567.99,369.30 v-1.8"/><path d="M569.94,369.30 v-4.2"/><path d="M571.89,369.30 v-1.8"/><path d="M573.85,369.30 v-1.8"/><path d="M575.80,369.30 v-1.8"/><path d="M577.76,369.30 v-1.8"/><path d="M579.71,369.30 v-1.8"/><path d="M581.67,369.30 v-1.8"/><path d="M583.62,369.30 v-1.8"/><path d="M585.58,369.30 v-1.8"/><path d="M587.53,369.30 v-4.2"/><path d="M589.48,369.30 v-1.8"/><path d="M591.44,369.30 v-1.8"/><path d="M593.39,369.30 v-1.8"/><path d="M595.35,369.30 v-1.8"/><path d="M597.30,369.30 v-1.8"/><path d="M599.26,369.30 v-1.8"/><path d="M601.21,369.30 v-1.8"/><path d="M603.17,369.30 v-1.8"/><path d="M605.12,369.30 v-4.2"/><path d="M607.07,369.30 v-1.8"/><path d="M609.03,369.30 v-1.8"/><path d="M610.98,369.30 v-1.8"/><path d="M612.94,369.30 v-1.8"/><path d="M614.89,369.30 v-1.8"/><path d="M616.85,369.30 v-1.8"/><path d="M618.80,369.30 v-1.8"/><path d="M620.76,369.30 v-1.8"/><path d="M622.71,369.30 v-4.2"/></g>
<path d="M112.80,369.30 H622.60" stroke="#5a5a5a" stroke-width="1.00"/>
<text x="108" y="301.90" font-family="Liberation Serif" font-size="6" fill="#222" text-anchor="end">0.0172</text>
<text x="108" y="319.25" font-family="Liberation Serif" font-size="6" fill="#222" text-anchor="end">0.0129</text>
<text x="108" y="336.60" font-family="Liberation Serif" font-size="6" fill="#222" text-anchor="end">0.0086</text>
<text x="108" y="353.95" font-family="Liberation Serif" font-size="6" fill="#222" text-anchor="end">0.0043</text>
<text transform="translate(62.60,334.60) rotate(-90)" font-family="Liberation Serif" font-weight="bold" font-size="6.2" fill="#111" text-anchor="middle" dominant-baseline="central">Accumulated total</text>
<text transform="translate(70.50,334.60) rotate(-90)" font-family="Liberation Serif" font-weight="bold" font-size="6.2" fill="#111" text-anchor="middle" dominant-baseline="central">deviation of tooth</text>
<text transform="translate(78.50,334.60) rotate(-90)" font-family="Liberation Serif" font-weight="bold" font-size="6.2" fill="#111" text-anchor="middle" dominant-baseline="central">pitch on the left tooth</text>
<text transform="translate(86.10,334.60) rotate(-90)" font-family="Liberation Serif" font-weight="bold" font-size="6.2" fill="#111" text-anchor="middle" dominant-baseline="central">face of gear 2</text>
<linearGradient id="gf2" gradientUnits="userSpaceOnUse" x1="0" y1="369.3" x2="0" y2="438.6"><stop offset="0" stop-color="#badb9b"/><stop offset="0.55" stop-color="#dcedc9"/><stop offset="1" stop-color="#fbfef1"/></linearGradient>
<path d="M112.80,414.40 C114.27,414.63 118.73,415.48 121.60,415.80 C124.47,416.12 127.22,416.45 130.00,416.30 C132.78,416.15 135.53,415.50 138.30,414.90 C141.07,414.30 143.37,413.30 146.60,412.70 C149.83,412.10 154.47,411.95 157.70,411.30 C160.93,410.65 162.77,410.73 166.00,408.80 C169.23,406.87 173.40,402.52 177.10,399.70 C180.80,396.88 184.50,394.08 188.20,391.90 C191.90,389.72 195.60,388.08 199.30,386.60 C203.00,385.12 207.17,383.92 210.40,383.00 C213.63,382.08 215.47,382.15 218.70,381.10 C221.93,380.05 226.10,378.00 229.80,376.70 C233.50,375.40 237.20,374.10 240.90,373.30 C244.60,372.50 248.30,372.27 252.00,371.90 C255.70,371.53 259.40,371.23 263.10,371.10 C266.80,370.97 270.50,370.73 274.20,371.10 C277.90,371.47 281.65,372.57 285.30,373.30 C288.95,374.03 292.45,374.93 296.10,375.50 C299.75,376.07 303.50,376.70 307.20,376.70 C310.90,376.70 314.60,375.73 318.30,375.50 C322.00,375.27 325.70,375.20 329.40,375.30 C333.10,375.40 336.80,375.42 340.50,376.10 C344.20,376.78 348.37,377.55 351.60,379.40 C354.83,381.25 357.13,384.05 359.90,387.20 C362.67,390.35 366.08,395.63 368.20,398.30 C370.32,400.97 371.22,402.05 372.60,403.20 C373.98,404.35 375.23,405.07 376.50,405.20 C377.77,405.33 378.95,404.87 380.20,404.00 C381.45,403.13 382.30,402.25 384.00,400.00 C385.70,397.75 387.95,393.37 390.40,390.50 C392.85,387.63 395.92,384.28 398.70,382.80 C401.48,381.32 403.87,381.65 407.10,381.60 C410.33,381.55 414.42,382.12 418.10,382.50 C421.78,382.88 425.50,383.35 429.20,383.90 C432.90,384.45 436.60,385.25 440.30,385.80 C444.00,386.35 447.70,386.97 451.40,387.20 C455.10,387.43 459.40,387.23 462.50,387.20 C465.60,387.17 466.82,386.77 470.00,387.00 C473.18,387.23 476.88,387.73 481.60,388.60 C486.32,389.47 492.75,390.92 498.30,392.20 C503.85,393.48 509.35,394.82 514.90,396.30 C520.45,397.78 526.05,399.38 531.60,401.10 C537.15,402.82 543.12,405.08 548.20,406.60 C553.28,408.12 557.93,409.47 562.10,410.20 C566.27,410.93 569.50,411.05 573.20,411.00 C576.90,410.95 580.60,410.40 584.30,409.90 C588.00,409.40 591.70,408.55 595.40,408.00 C599.10,407.45 601.97,406.92 606.50,406.60 C611.03,406.28 619.92,406.18 622.60,406.10 L622.60,438.60 L112.80,438.60 Z" fill="url(#gf2)"/>
<path d="M112.80,414.40 C114.27,414.63 118.73,415.48 121.60,415.80 C124.47,416.12 127.22,416.45 130.00,416.30 C132.78,416.15 135.53,415.50 138.30,414.90 C141.07,414.30 143.37,413.30 146.60,412.70 C149.83,412.10 154.47,411.95 157.70,411.30 C160.93,410.65 162.77,410.73 166.00,408.80 C169.23,406.87 173.40,402.52 177.10,399.70 C180.80,396.88 184.50,394.08 188.20,391.90 C191.90,389.72 195.60,388.08 199.30,386.60 C203.00,385.12 207.17,383.92 210.40,383.00 C213.63,382.08 215.47,382.15 218.70,381.10 C221.93,380.05 226.10,378.00 229.80,376.70 C233.50,375.40 237.20,374.10 240.90,373.30 C244.60,372.50 248.30,372.27 252.00,371.90 C255.70,371.53 259.40,371.23 263.10,371.10 C266.80,370.97 270.50,370.73 274.20,371.10 C277.90,371.47 281.65,372.57 285.30,373.30 C288.95,374.03 292.45,374.93 296.10,375.50 C299.75,376.07 303.50,376.70 307.20,376.70 C310.90,376.70 314.60,375.73 318.30,375.50 C322.00,375.27 325.70,375.20 329.40,375.30 C333.10,375.40 336.80,375.42 340.50,376.10 C344.20,376.78 348.37,377.55 351.60,379.40 C354.83,381.25 357.13,384.05 359.90,387.20 C362.67,390.35 366.08,395.63 368.20,398.30 C370.32,400.97 371.22,402.05 372.60,403.20 C373.98,404.35 375.23,405.07 376.50,405.20 C377.77,405.33 378.95,404.87 380.20,404.00 C381.45,403.13 382.30,402.25 384.00,400.00 C385.70,397.75 387.95,393.37 390.40,390.50 C392.85,387.63 395.92,384.28 398.70,382.80 C401.48,381.32 403.87,381.65 407.10,381.60 C410.33,381.55 414.42,382.12 418.10,382.50 C421.78,382.88 425.50,383.35 429.20,383.90 C432.90,384.45 436.60,385.25 440.30,385.80 C444.00,386.35 447.70,386.97 451.40,387.20 C455.10,387.43 459.40,387.23 462.50,387.20 C465.60,387.17 466.82,386.77 470.00,387.00 C473.18,387.23 476.88,387.73 481.60,388.60 C486.32,389.47 492.75,390.92 498.30,392.20 C503.85,393.48 509.35,394.82 514.90,396.30 C520.45,397.78 526.05,399.38 531.60,401.10 C537.15,402.82 543.12,405.08 548.20,406.60 C553.28,408.12 557.93,409.47 562.10,410.20 C566.27,410.93 569.50,411.05 573.20,411.00 C576.90,410.95 580.60,410.40 584.30,409.90 C588.00,409.40 591.70,408.55 595.40,408.00 C599.10,407.45 601.97,406.92 606.50,406.60 C611.03,406.28 619.92,406.18 622.60,406.10" fill="none" stroke="#3cb043" stroke-width="1.5"/>
<g stroke="#111" stroke-width="0.9"><path d="M112.80,369.30 h4.00"/><path d="M112.80,372.76 h2.20"/><path d="M112.80,376.23 h2.20"/><path d="M112.80,379.69 h2.20"/><path d="M112.80,383.16 h2.20"/><path d="M112.80,386.62 h4.00"/><path d="M112.80,390.09 h2.20"/><path d="M112.80,393.56 h2.20"/><path d="M112.80,397.02 h2.20"/><path d="M112.80,400.49 h2.20"/><path d="M112.80,403.95 h4.00"/><path d="M112.80,407.42 h2.20"/><path d="M112.80,410.88 h2.20"/><path d="M112.80,414.35 h2.20"/><path d="M112.80,417.81 h2.20"/><path d="M112.80,421.28 h4.00"/><path d="M112.80,424.74 h2.20"/><path d="M112.80,428.21 h2.20"/><path d="M112.80,431.67 h2.20"/><path d="M112.80,435.13 h2.20"/><path d="M112.80,438.60 h4.00"/></g><g stroke="#9a9a9a" stroke-width="0.8"><path d="M112.60,438.60 v-4.2"/><path d="M114.55,438.60 v-1.8"/><path d="M116.51,438.60 v-1.8"/><path d="M118.46,438.60 v-1.8"/><path d="M120.42,438.60 v-1.8"/><path d="M122.37,438.60 v-1.8"/><path d="M124.33,438.60 v-1.8"/><path d="M126.28,438.60 v-1.8"/><path d="M128.24,438.60 v-1.8"/><path d="M130.19,438.60 v-4.2"/><path d="M132.14,438.60 v-1.8"/><path d="M134.10,438.60 v-1.8"/><path d="M136.05,438.60 v-1.8"/><path d="M138.01,438.60 v-1.8"/><path d="M139.96,438.60 v-1.8"/><path d="M141.92,438.60 v-1.8"/><path d="M143.87,438.60 v-1.8"/><path d="M145.83,438.60 v-1.8"/><path d="M147.78,438.60 v-4.2"/><path d="M149.73,438.60 v-1.8"/><path d="M151.69,438.60 v-1.8"/><path d="M153.64,438.60 v-1.8"/><path d="M155.60,438.60 v-1.8"/><path d="M157.55,438.60 v-1.8"/><path d="M159.51,438.60 v-1.8"/><path d="M161.46,438.60 v-1.8"/><path d="M163.42,438.60 v-1.8"/><path d="M165.37,438.60 v-4.2"/><path d="M167.32,438.60 v-1.8"/><path d="M169.28,438.60 v-1.8"/><path d="M171.23,438.60 v-1.8"/><path d="M173.19,438.60 v-1.8"/><path d="M175.14,438.60 v-1.8"/><path d="M177.10,438.60 v-1.8"/><path d="M179.05,438.60 v-1.8"/><path d="M181.01,438.60 v-1.8"/><path d="M182.96,438.60 v-4.2"/><path d="M184.91,438.60 v-1.8"/><path d="M186.87,438.60 v-1.8"/><path d="M188.82,438.60 v-1.8"/><path d="M190.78,438.60 v-1.8"/><path d="M192.73,438.60 v-1.8"/><path d="M194.69,438.60 v-1.8"/><path d="M196.64,438.60 v-1.8"/><path d="M198.60,438.60 v-1.8"/><path d="M200.55,438.60 v-4.2"/><path d="M202.50,438.60 v-1.8"/><path d="M204.46,438.60 v-1.8"/><path d="M206.41,438.60 v-1.8"/><path d="M208.37,438.60 v-1.8"/><path d="M210.32,438.60 v-1.8"/><path d="M212.28,438.60 v-1.8"/><path d="M214.23,438.60 v-1.8"/><path d="M216.19,438.60 v-1.8"/><path d="M218.14,438.60 v-4.2"/><path d="M220.09,438.60 v-1.8"/><path d="M222.05,438.60 v-1.8"/><path d="M224.00,438.60 v-1.8"/><path d="M225.96,438.60 v-1.8"/><path d="M227.91,438.60 v-1.8"/><path d="M229.87,438.60 v-1.8"/><path d="M231.82,438.60 v-1.8"/><path d="M233.78,438.60 v-1.8"/><path d="M235.73,438.60 v-4.2"/><path d="M237.68,438.60 v-1.8"/><path d="M239.64,438.60 v-1.8"/><path d="M241.59,438.60 v-1.8"/><path d="M243.55,438.60 v-1.8"/><path d="M245.50,438.60 v-1.8"/><path d="M247.46,438.60 v-1.8"/><path d="M249.41,438.60 v-1.8"/><path d="M251.37,438.60 v-1.8"/><path d="M253.32,438.60 v-4.2"/><path d="M255.27,438.60 v-1.8"/><path d="M257.23,438.60 v-1.8"/><path d="M259.18,438.60 v-1.8"/><path d="M261.14,438.60 v-1.8"/><path d="M263.09,438.60 v-1.8"/><path d="M265.05,438.60 v-1.8"/><path d="M267.00,438.60 v-1.8"/><path d="M268.96,438.60 v-1.8"/><path d="M270.91,438.60 v-4.2"/><path d="M272.86,438.60 v-1.8"/><path d="M274.82,438.60 v-1.8"/><path d="M276.77,438.60 v-1.8"/><path d="M278.73,438.60 v-1.8"/><path d="M280.68,438.60 v-1.8"/><path d="M282.64,438.60 v-1.8"/><path d="M284.59,438.60 v-1.8"/><path d="M286.55,438.60 v-1.8"/><path d="M288.50,438.60 v-4.2"/><path d="M290.45,438.60 v-1.8"/><path d="M292.41,438.60 v-1.8"/><path d="M294.36,438.60 v-1.8"/><path d="M296.32,438.60 v-1.8"/><path d="M298.27,438.60 v-1.8"/><path d="M300.23,438.60 v-1.8"/><path d="M302.18,438.60 v-1.8"/><path d="M304.14,438.60 v-1.8"/><path d="M306.09,438.60 v-4.2"/><path d="M308.04,438.60 v-1.8"/><path d="M310.00,438.60 v-1.8"/><path d="M311.95,438.60 v-1.8"/><path d="M313.91,438.60 v-1.8"/><path d="M315.86,438.60 v-1.8"/><path d="M317.82,438.60 v-1.8"/><path d="M319.77,438.60 v-1.8"/><path d="M321.73,438.60 v-1.8"/><path d="M323.68,438.60 v-4.2"/><path d="M325.63,438.60 v-1.8"/><path d="M327.59,438.60 v-1.8"/><path d="M329.54,438.60 v-1.8"/><path d="M331.50,438.60 v-1.8"/><path d="M333.45,438.60 v-1.8"/><path d="M335.41,438.60 v-1.8"/><path d="M337.36,438.60 v-1.8"/><path d="M339.32,438.60 v-1.8"/><path d="M341.27,438.60 v-4.2"/><path d="M343.22,438.60 v-1.8"/><path d="M345.18,438.60 v-1.8"/><path d="M347.13,438.60 v-1.8"/><path d="M349.09,438.60 v-1.8"/><path d="M351.04,438.60 v-1.8"/><path d="M353.00,438.60 v-1.8"/><path d="M354.95,438.60 v-1.8"/><path d="M356.91,438.60 v-1.8"/><path d="M358.86,438.60 v-4.2"/><path d="M360.81,438.60 v-1.8"/><path d="M362.77,438.60 v-1.8"/><path d="M364.72,438.60 v-1.8"/><path d="M366.68,438.60 v-1.8"/><path d="M368.63,438.60 v-1.8"/><path d="M370.59,438.60 v-1.8"/><path d="M372.54,438.60 v-1.8"/><path d="M374.50,438.60 v-1.8"/><path d="M376.45,438.60 v-4.2"/><path d="M378.40,438.60 v-1.8"/><path d="M380.36,438.60 v-1.8"/><path d="M382.31,438.60 v-1.8"/><path d="M384.27,438.60 v-1.8"/><path d="M386.22,438.60 v-1.8"/><path d="M388.18,438.60 v-1.8"/><path d="M390.13,438.60 v-1.8"/><path d="M392.09,438.60 v-1.8"/><path d="M394.04,438.60 v-4.2"/><path d="M395.99,438.60 v-1.8"/><path d="M397.95,438.60 v-1.8"/><path d="M399.90,438.60 v-1.8"/><path d="M401.86,438.60 v-1.8"/><path d="M403.81,438.60 v-1.8"/><path d="M405.77,438.60 v-1.8"/><path d="M407.72,438.60 v-1.8"/><path d="M409.68,438.60 v-1.8"/><path d="M411.63,438.60 v-4.2"/><path d="M413.58,438.60 v-1.8"/><path d="M415.54,438.60 v-1.8"/><path d="M417.49,438.60 v-1.8"/><path d="M419.45,438.60 v-1.8"/><path d="M421.40,438.60 v-1.8"/><path d="M423.36,438.60 v-1.8"/><path d="M425.31,438.60 v-1.8"/><path d="M427.27,438.60 v-1.8"/><path d="M429.22,438.60 v-4.2"/><path d="M431.17,438.60 v-1.8"/><path d="M433.13,438.60 v-1.8"/><path d="M435.08,438.60 v-1.8"/><path d="M437.04,438.60 v-1.8"/><path d="M438.99,438.60 v-1.8"/><path d="M440.95,438.60 v-1.8"/><path d="M442.90,438.60 v-1.8"/><path d="M444.86,438.60 v-1.8"/><path d="M446.81,438.60 v-4.2"/><path d="M448.76,438.60 v-1.8"/><path d="M450.72,438.60 v-1.8"/><path d="M452.67,438.60 v-1.8"/><path d="M454.63,438.60 v-1.8"/><path d="M456.58,438.60 v-1.8"/><path d="M458.54,438.60 v-1.8"/><path d="M460.49,438.60 v-1.8"/><path d="M462.45,438.60 v-1.8"/><path d="M464.40,438.60 v-4.2"/><path d="M466.35,438.60 v-1.8"/><path d="M468.31,438.60 v-1.8"/><path d="M470.26,438.60 v-1.8"/><path d="M472.22,438.60 v-1.8"/><path d="M474.17,438.60 v-1.8"/><path d="M476.13,438.60 v-1.8"/><path d="M478.08,438.60 v-1.8"/><path d="M480.04,438.60 v-1.8"/><path d="M481.99,438.60 v-4.2"/><path d="M483.94,438.60 v-1.8"/><path d="M485.90,438.60 v-1.8"/><path d="M487.85,438.60 v-1.8"/><path d="M489.81,438.60 v-1.8"/><path d="M491.76,438.60 v-1.8"/><path d="M493.72,438.60 v-1.8"/><path d="M495.67,438.60 v-1.8"/><path d="M497.63,438.60 v-1.8"/><path d="M499.58,438.60 v-4.2"/><path d="M501.53,438.60 v-1.8"/><path d="M503.49,438.60 v-1.8"/><path d="M505.44,438.60 v-1.8"/><path d="M507.40,438.60 v-1.8"/><path d="M509.35,438.60 v-1.8"/><path d="M511.31,438.60 v-1.8"/><path d="M513.26,438.60 v-1.8"/><path d="M515.22,438.60 v-1.8"/><path d="M517.17,438.60 v-4.2"/><path d="M519.12,438.60 v-1.8"/><path d="M521.08,438.60 v-1.8"/><path d="M523.03,438.60 v-1.8"/><path d="M524.99,438.60 v-1.8"/><path d="M526.94,438.60 v-1.8"/><path d="M528.90,438.60 v-1.8"/><path d="M530.85,438.60 v-1.8"/><path d="M532.81,438.60 v-1.8"/><path d="M534.76,438.60 v-4.2"/><path d="M536.71,438.60 v-1.8"/><path d="M538.67,438.60 v-1.8"/><path d="M540.62,438.60 v-1.8"/><path d="M542.58,438.60 v-1.8"/><path d="M544.53,438.60 v-1.8"/><path d="M546.49,438.60 v-1.8"/><path d="M548.44,438.60 v-1.8"/><path d="M550.40,438.60 v-1.8"/><path d="M552.35,438.60 v-4.2"/><path d="M554.30,438.60 v-1.8"/><path d="M556.26,438.60 v-1.8"/><path d="M558.21,438.60 v-1.8"/><path d="M560.17,438.60 v-1.8"/><path d="M562.12,438.60 v-1.8"/><path d="M564.08,438.60 v-1.8"/><path d="M566.03,438.60 v-1.8"/><path d="M567.99,438.60 v-1.8"/><path d="M569.94,438.60 v-4.2"/><path d="M571.89,438.60 v-1.8"/><path d="M573.85,438.60 v-1.8"/><path d="M575.80,438.60 v-1.8"/><path d="M577.76,438.60 v-1.8"/><path d="M579.71,438.60 v-1.8"/><path d="M581.67,438.60 v-1.8"/><path d="M583.62,438.60 v-1.8"/><path d="M585.58,438.60 v-1.8"/><path d="M587.53,438.60 v-4.2"/><path d="M589.48,438.60 v-1.8"/><path d="M591.44,438.60 v-1.8"/><path d="M593.39,438.60 v-1.8"/><path d="M595.35,438.60 v-1.8"/><path d="M597.30,438.60 v-1.8"/><path d="M599.26,438.60 v-1.8"/><path d="M601.21,438.60 v-1.8"/><path d="M603.17,438.60 v-1.8"/><path d="M605.12,438.60 v-4.2"/><path d="M607.07,438.60 v-1.8"/><path d="M609.03,438.60 v-1.8"/><path d="M610.98,438.60 v-1.8"/><path d="M612.94,438.60 v-1.8"/><path d="M614.89,438.60 v-1.8"/><path d="M616.85,438.60 v-1.8"/><path d="M618.80,438.60 v-1.8"/><path d="M620.76,438.60 v-1.8"/><path d="M622.71,438.60 v-4.2"/></g>
<path d="M112.80,438.60 H622.60" stroke="#666" stroke-width="1.00"/>
<text x="108" y="371.30" font-family="Liberation Serif" font-size="6" fill="#222" text-anchor="end">0.020</text>
<text x="108" y="388.62" font-family="Liberation Serif" font-size="6" fill="#222" text-anchor="end">0.015</text>
<text x="108" y="405.95" font-family="Liberation Serif" font-size="6" fill="#222" text-anchor="end">0.010</text>
<text x="108" y="423.28" font-family="Liberation Serif" font-size="6" fill="#222" text-anchor="end">0.005</text>
<text transform="translate(65.10,403.95) rotate(-90)" font-family="Liberation Serif" font-weight="bold" font-size="6.2" fill="#111" text-anchor="middle" dominant-baseline="central">Accumulated total</text>
<text transform="translate(73.30,403.95) rotate(-90)" font-family="Liberation Serif" font-weight="bold" font-size="6.2" fill="#111" text-anchor="middle" dominant-baseline="central">deviation of tooth</text>
<text transform="translate(81.30,403.95) rotate(-90)" font-family="Liberation Serif" font-weight="bold" font-size="6.2" fill="#111" text-anchor="middle" dominant-baseline="central">pitch on the left tooth</text>
<text transform="translate(89.00,403.95) rotate(-90)" font-family="Liberation Serif" font-weight="bold" font-size="6.2" fill="#111" text-anchor="middle" dominant-baseline="central">face of gear 3</text>
<linearGradient id="gf3" gradientUnits="userSpaceOnUse" x1="0" y1="438.6" x2="0" y2="507.9"><stop offset="0" stop-color="#badb9b"/><stop offset="0.55" stop-color="#dcedc9"/><stop offset="1" stop-color="#fbfef1"/></linearGradient>
<path d="M112.80,483.90 C114.27,484.23 118.73,485.43 121.60,485.90 C124.47,486.37 126.77,486.93 130.00,486.70 C133.23,486.47 137.30,485.42 141.00,484.50 C144.70,483.58 148.48,482.22 152.20,481.20 C155.92,480.18 159.62,479.80 163.30,478.40 C166.98,477.00 170.62,474.75 174.30,472.80 C177.98,470.85 181.70,468.32 185.40,466.70 C189.10,465.08 192.80,463.83 196.50,463.10 C200.20,462.37 203.90,462.75 207.60,462.30 C211.30,461.85 215.00,461.42 218.70,460.40 C222.40,459.38 226.10,457.73 229.80,456.20 C233.50,454.67 237.20,452.68 240.90,451.20 C244.60,449.72 248.30,448.00 252.00,447.30 C255.70,446.60 259.40,447.05 263.10,447.00 C266.80,446.95 270.50,447.18 274.20,447.00 C277.90,446.82 281.65,445.85 285.30,445.90 C288.95,445.95 292.45,446.65 296.10,447.30 C299.75,447.95 303.50,449.15 307.20,449.80 C310.90,450.45 314.60,451.28 318.30,451.20 C322.00,451.12 325.70,450.00 329.40,449.30 C333.10,448.60 336.35,447.47 340.50,447.00 C344.65,446.53 349.68,446.58 354.30,446.50 C358.92,446.42 363.57,446.50 368.20,446.50 C372.83,446.50 377.93,446.73 382.10,446.50 C386.27,446.27 389.50,445.80 393.20,445.10 C396.90,444.40 400.60,443.00 404.30,442.30 C408.00,441.60 411.70,440.90 415.40,440.90 C419.10,440.90 422.80,441.60 426.50,442.30 C430.20,443.00 433.90,444.17 437.60,445.10 C441.30,446.03 445.00,447.30 448.70,447.90 C452.40,448.50 455.42,448.58 459.80,448.70 C464.18,448.82 471.37,448.55 475.00,448.60 C478.63,448.65 477.72,448.88 481.60,449.00 C485.48,449.12 493.20,449.25 498.30,449.30 C503.40,449.35 508.03,448.98 512.20,449.30 C516.37,449.62 519.62,450.05 523.30,451.20 C526.98,452.35 530.62,454.30 534.30,456.20 C537.98,458.10 541.70,460.67 545.40,462.60 C549.10,464.53 552.80,466.42 556.50,467.80 C560.20,469.18 563.90,470.07 567.60,470.90 C571.30,471.73 575.00,472.48 578.70,472.80 C582.40,473.12 586.10,472.98 589.80,472.80 C593.50,472.62 597.20,471.78 600.90,471.70 C604.60,471.62 608.38,472.02 612.00,472.30 C615.62,472.58 620.83,473.22 622.60,473.40 L622.60,507.90 L112.80,507.90 Z" fill="url(#gf3)"/>
<path d="M112.80,483.90 C114.27,484.23 118.73,485.43 121.60,485.90 C124.47,486.37 126.77,486.93 130.00,486.70 C133.23,486.47 137.30,485.42 141.00,484.50 C144.70,483.58 148.48,482.22 152.20,481.20 C155.92,480.18 159.62,479.80 163.30,478.40 C166.98,477.00 170.62,474.75 174.30,472.80 C177.98,470.85 181.70,468.32 185.40,466.70 C189.10,465.08 192.80,463.83 196.50,463.10 C200.20,462.37 203.90,462.75 207.60,462.30 C211.30,461.85 215.00,461.42 218.70,460.40 C222.40,459.38 226.10,457.73 229.80,456.20 C233.50,454.67 237.20,452.68 240.90,451.20 C244.60,449.72 248.30,448.00 252.00,447.30 C255.70,446.60 259.40,447.05 263.10,447.00 C266.80,446.95 270.50,447.18 274.20,447.00 C277.90,446.82 281.65,445.85 285.30,445.90 C288.95,445.95 292.45,446.65 296.10,447.30 C299.75,447.95 303.50,449.15 307.20,449.80 C310.90,450.45 314.60,451.28 318.30,451.20 C322.00,451.12 325.70,450.00 329.40,449.30 C333.10,448.60 336.35,447.47 340.50,447.00 C344.65,446.53 349.68,446.58 354.30,446.50 C358.92,446.42 363.57,446.50 368.20,446.50 C372.83,446.50 377.93,446.73 382.10,446.50 C386.27,446.27 389.50,445.80 393.20,445.10 C396.90,444.40 400.60,443.00 404.30,442.30 C408.00,441.60 411.70,440.90 415.40,440.90 C419.10,440.90 422.80,441.60 426.50,442.30 C430.20,443.00 433.90,444.17 437.60,445.10 C441.30,446.03 445.00,447.30 448.70,447.90 C452.40,448.50 455.42,448.58 459.80,448.70 C464.18,448.82 471.37,448.55 475.00,448.60 C478.63,448.65 477.72,448.88 481.60,449.00 C485.48,449.12 493.20,449.25 498.30,449.30 C503.40,449.35 508.03,448.98 512.20,449.30 C516.37,449.62 519.62,450.05 523.30,451.20 C526.98,452.35 530.62,454.30 534.30,456.20 C537.98,458.10 541.70,460.67 545.40,462.60 C549.10,464.53 552.80,466.42 556.50,467.80 C560.20,469.18 563.90,470.07 567.60,470.90 C571.30,471.73 575.00,472.48 578.70,472.80 C582.40,473.12 586.10,472.98 589.80,472.80 C593.50,472.62 597.20,471.78 600.90,471.70 C604.60,471.62 608.38,472.02 612.00,472.30 C615.62,472.58 620.83,473.22 622.60,473.40" fill="none" stroke="#3cb043" stroke-width="1.5"/>
<g stroke="#111" stroke-width="0.9"><path d="M112.80,438.60 h4.00"/><path d="M112.80,442.06 h2.20"/><path d="M112.80,445.53 h2.20"/><path d="M112.80,449.00 h2.20"/><path d="M112.80,452.46 h2.20"/><path d="M112.80,455.93 h4.00"/><path d="M112.80,459.39 h2.20"/><path d="M112.80,462.86 h2.20"/><path d="M112.80,466.32 h2.20"/><path d="M112.80,469.79 h2.20"/><path d="M112.80,473.25 h4.00"/><path d="M112.80,476.71 h2.20"/><path d="M112.80,480.18 h2.20"/><path d="M112.80,483.64 h2.20"/><path d="M112.80,487.11 h2.20"/><path d="M112.80,490.57 h4.00"/><path d="M112.80,494.04 h2.20"/><path d="M112.80,497.50 h2.20"/><path d="M112.80,500.97 h2.20"/><path d="M112.80,504.43 h2.20"/><path d="M112.80,507.90 h4.00"/></g><g stroke="#9a9a9a" stroke-width="0.8"><path d="M112.60,507.90 v-4.2"/><path d="M114.55,507.90 v-1.8"/><path d="M116.51,507.90 v-1.8"/><path d="M118.46,507.90 v-1.8"/><path d="M120.42,507.90 v-1.8"/><path d="M122.37,507.90 v-1.8"/><path d="M124.33,507.90 v-1.8"/><path d="M126.28,507.90 v-1.8"/><path d="M128.24,507.90 v-1.8"/><path d="M130.19,507.90 v-4.2"/><path d="M132.14,507.90 v-1.8"/><path d="M134.10,507.90 v-1.8"/><path d="M136.05,507.90 v-1.8"/><path d="M138.01,507.90 v-1.8"/><path d="M139.96,507.90 v-1.8"/><path d="M141.92,507.90 v-1.8"/><path d="M143.87,507.90 v-1.8"/><path d="M145.83,507.90 v-1.8"/><path d="M147.78,507.90 v-4.2"/><path d="M149.73,507.90 v-1.8"/><path d="M151.69,507.90 v-1.8"/><path d="M153.64,507.90 v-1.8"/><path d="M155.60,507.90 v-1.8"/><path d="M157.55,507.90 v-1.8"/><path d="M159.51,507.90 v-1.8"/><path d="M161.46,507.90 v-1.8"/><path d="M163.42,507.90 v-1.8"/><path d="M165.37,507.90 v-4.2"/><path d="M167.32,507.90 v-1.8"/><path d="M169.28,507.90 v-1.8"/><path d="M171.23,507.90 v-1.8"/><path d="M173.19,507.90 v-1.8"/><path d="M175.14,507.90 v-1.8"/><path d="M177.10,507.90 v-1.8"/><path d="M179.05,507.90 v-1.8"/><path d="M181.01,507.90 v-1.8"/><path d="M182.96,507.90 v-4.2"/><path d="M184.91,507.90 v-1.8"/><path d="M186.87,507.90 v-1.8"/><path d="M188.82,507.90 v-1.8"/><path d="M190.78,507.90 v-1.8"/><path d="M192.73,507.90 v-1.8"/><path d="M194.69,507.90 v-1.8"/><path d="M196.64,507.90 v-1.8"/><path d="M198.60,507.90 v-1.8"/><path d="M200.55,507.90 v-4.2"/><path d="M202.50,507.90 v-1.8"/><path d="M204.46,507.90 v-1.8"/><path d="M206.41,507.90 v-1.8"/><path d="M208.37,507.90 v-1.8"/><path d="M210.32,507.90 v-1.8"/><path d="M212.28,507.90 v-1.8"/><path d="M214.23,507.90 v-1.8"/><path d="M216.19,507.90 v-1.8"/><path d="M218.14,507.90 v-4.2"/><path d="M220.09,507.90 v-1.8"/><path d="M222.05,507.90 v-1.8"/><path d="M224.00,507.90 v-1.8"/><path d="M225.96,507.90 v-1.8"/><path d="M227.91,507.90 v-1.8"/><path d="M229.87,507.90 v-1.8"/><path d="M231.82,507.90 v-1.8"/><path d="M233.78,507.90 v-1.8"/><path d="M235.73,507.90 v-4.2"/><path d="M237.68,507.90 v-1.8"/><path d="M239.64,507.90 v-1.8"/><path d="M241.59,507.90 v-1.8"/><path d="M243.55,507.90 v-1.8"/><path d="M245.50,507.90 v-1.8"/><path d="M247.46,507.90 v-1.8"/><path d="M249.41,507.90 v-1.8"/><path d="M251.37,507.90 v-1.8"/><path d="M253.32,507.90 v-4.2"/><path d="M255.27,507.90 v-1.8"/><path d="M257.23,507.90 v-1.8"/><path d="M259.18,507.90 v-1.8"/><path d="M261.14,507.90 v-1.8"/><path d="M263.09,507.90 v-1.8"/><path d="M265.05,507.90 v-1.8"/><path d="M267.00,507.90 v-1.8"/><path d="M268.96,507.90 v-1.8"/><path d="M270.91,507.90 v-4.2"/><path d="M272.86,507.90 v-1.8"/><path d="M274.82,507.90 v-1.8"/><path d="M276.77,507.90 v-1.8"/><path d="M278.73,507.90 v-1.8"/><path d="M280.68,507.90 v-1.8"/><path d="M282.64,507.90 v-1.8"/><path d="M284.59,507.90 v-1.8"/><path d="M286.55,507.90 v-1.8"/><path d="M288.50,507.90 v-4.2"/><path d="M290.45,507.90 v-1.8"/><path d="M292.41,507.90 v-1.8"/><path d="M294.36,507.90 v-1.8"/><path d="M296.32,507.90 v-1.8"/><path d="M298.27,507.90 v-1.8"/><path d="M300.23,507.90 v-1.8"/><path d="M302.18,507.90 v-1.8"/><path d="M304.14,507.90 v-1.8"/><path d="M306.09,507.90 v-4.2"/><path d="M308.04,507.90 v-1.8"/><path d="M310.00,507.90 v-1.8"/><path d="M311.95,507.90 v-1.8"/><path d="M313.91,507.90 v-1.8"/><path d="M315.86,507.90 v-1.8"/><path d="M317.82,507.90 v-1.8"/><path d="M319.77,507.90 v-1.8"/><path d="M321.73,507.90 v-1.8"/><path d="M323.68,507.90 v-4.2"/><path d="M325.63,507.90 v-1.8"/><path d="M327.59,507.90 v-1.8"/><path d="M329.54,507.90 v-1.8"/><path d="M331.50,507.90 v-1.8"/><path d="M333.45,507.90 v-1.8"/><path d="M335.41,507.90 v-1.8"/><path d="M337.36,507.90 v-1.8"/><path d="M339.32,507.90 v-1.8"/><path d="M341.27,507.90 v-4.2"/><path d="M343.22,507.90 v-1.8"/><path d="M345.18,507.90 v-1.8"/><path d="M347.13,507.90 v-1.8"/><path d="M349.09,507.90 v-1.8"/><path d="M351.04,507.90 v-1.8"/><path d="M353.00,507.90 v-1.8"/><path d="M354.95,507.90 v-1.8"/><path d="M356.91,507.90 v-1.8"/><path d="M358.86,507.90 v-4.2"/><path d="M360.81,507.90 v-1.8"/><path d="M362.77,507.90 v-1.8"/><path d="M364.72,507.90 v-1.8"/><path d="M366.68,507.90 v-1.8"/><path d="M368.63,507.90 v-1.8"/><path d="M370.59,507.90 v-1.8"/><path d="M372.54,507.90 v-1.8"/><path d="M374.50,507.90 v-1.8"/><path d="M376.45,507.90 v-4.2"/><path d="M378.40,507.90 v-1.8"/><path d="M380.36,507.90 v-1.8"/><path d="M382.31,507.90 v-1.8"/><path d="M384.27,507.90 v-1.8"/><path d="M386.22,507.90 v-1.8"/><path d="M388.18,507.90 v-1.8"/><path d="M390.13,507.90 v-1.8"/><path d="M392.09,507.90 v-1.8"/><path d="M394.04,507.90 v-4.2"/><path d="M395.99,507.90 v-1.8"/><path d="M397.95,507.90 v-1.8"/><path d="M399.90,507.90 v-1.8"/><path d="M401.86,507.90 v-1.8"/><path d="M403.81,507.90 v-1.8"/><path d="M405.77,507.90 v-1.8"/><path d="M407.72,507.90 v-1.8"/><path d="M409.68,507.90 v-1.8"/><path d="M411.63,507.90 v-4.2"/><path d="M413.58,507.90 v-1.8"/><path d="M415.54,507.90 v-1.8"/><path d="M417.49,507.90 v-1.8"/><path d="M419.45,507.90 v-1.8"/><path d="M421.40,507.90 v-1.8"/><path d="M423.36,507.90 v-1.8"/><path d="M425.31,507.90 v-1.8"/><path d="M427.27,507.90 v-1.8"/><path d="M429.22,507.90 v-4.2"/><path d="M431.17,507.90 v-1.8"/><path d="M433.13,507.90 v-1.8"/><path d="M435.08,507.90 v-1.8"/><path d="M437.04,507.90 v-1.8"/><path d="M438.99,507.90 v-1.8"/><path d="M440.95,507.90 v-1.8"/><path d="M442.90,507.90 v-1.8"/><path d="M444.86,507.90 v-1.8"/><path d="M446.81,507.90 v-4.2"/><path d="M448.76,507.90 v-1.8"/><path d="M450.72,507.90 v-1.8"/><path d="M452.67,507.90 v-1.8"/><path d="M454.63,507.90 v-1.8"/><path d="M456.58,507.90 v-1.8"/><path d="M458.54,507.90 v-1.8"/><path d="M460.49,507.90 v-1.8"/><path d="M462.45,507.90 v-1.8"/><path d="M464.40,507.90 v-4.2"/><path d="M466.35,507.90 v-1.8"/><path d="M468.31,507.90 v-1.8"/><path d="M470.26,507.90 v-1.8"/><path d="M472.22,507.90 v-1.8"/><path d="M474.17,507.90 v-1.8"/><path d="M476.13,507.90 v-1.8"/><path d="M478.08,507.90 v-1.8"/><path d="M480.04,507.90 v-1.8"/><path d="M481.99,507.90 v-4.2"/><path d="M483.94,507.90 v-1.8"/><path d="M485.90,507.90 v-1.8"/><path d="M487.85,507.90 v-1.8"/><path d="M489.81,507.90 v-1.8"/><path d="M491.76,507.90 v-1.8"/><path d="M493.72,507.90 v-1.8"/><path d="M495.67,507.90 v-1.8"/><path d="M497.63,507.90 v-1.8"/><path d="M499.58,507.90 v-4.2"/><path d="M501.53,507.90 v-1.8"/><path d="M503.49,507.90 v-1.8"/><path d="M505.44,507.90 v-1.8"/><path d="M507.40,507.90 v-1.8"/><path d="M509.35,507.90 v-1.8"/><path d="M511.31,507.90 v-1.8"/><path d="M513.26,507.90 v-1.8"/><path d="M515.22,507.90 v-1.8"/><path d="M517.17,507.90 v-4.2"/><path d="M519.12,507.90 v-1.8"/><path d="M521.08,507.90 v-1.8"/><path d="M523.03,507.90 v-1.8"/><path d="M524.99,507.90 v-1.8"/><path d="M526.94,507.90 v-1.8"/><path d="M528.90,507.90 v-1.8"/><path d="M530.85,507.90 v-1.8"/><path d="M532.81,507.90 v-1.8"/><path d="M534.76,507.90 v-4.2"/><path d="M536.71,507.90 v-1.8"/><path d="M538.67,507.90 v-1.8"/><path d="M540.62,507.90 v-1.8"/><path d="M542.58,507.90 v-1.8"/><path d="M544.53,507.90 v-1.8"/><path d="M546.49,507.90 v-1.8"/><path d="M548.44,507.90 v-1.8"/><path d="M550.40,507.90 v-1.8"/><path d="M552.35,507.90 v-4.2"/><path d="M554.30,507.90 v-1.8"/><path d="M556.26,507.90 v-1.8"/><path d="M558.21,507.90 v-1.8"/><path d="M560.17,507.90 v-1.8"/><path d="M562.12,507.90 v-1.8"/><path d="M564.08,507.90 v-1.8"/><path d="M566.03,507.90 v-1.8"/><path d="M567.99,507.90 v-1.8"/><path d="M569.94,507.90 v-4.2"/><path d="M571.89,507.90 v-1.8"/><path d="M573.85,507.90 v-1.8"/><path d="M575.80,507.90 v-1.8"/><path d="M577.76,507.90 v-1.8"/><path d="M579.71,507.90 v-1.8"/><path d="M581.67,507.90 v-1.8"/><path d="M583.62,507.90 v-1.8"/><path d="M585.58,507.90 v-1.8"/><path d="M587.53,507.90 v-4.2"/><path d="M589.48,507.90 v-1.8"/><path d="M591.44,507.90 v-1.8"/><path d="M593.39,507.90 v-1.8"/><path d="M595.35,507.90 v-1.8"/><path d="M597.30,507.90 v-1.8"/><path d="M599.26,507.90 v-1.8"/><path d="M601.21,507.90 v-1.8"/><path d="M603.17,507.90 v-1.8"/><path d="M605.12,507.90 v-4.2"/><path d="M607.07,507.90 v-1.8"/><path d="M609.03,507.90 v-1.8"/><path d="M610.98,507.90 v-1.8"/><path d="M612.94,507.90 v-1.8"/><path d="M614.89,507.90 v-1.8"/><path d="M616.85,507.90 v-1.8"/><path d="M618.80,507.90 v-1.8"/><path d="M620.76,507.90 v-1.8"/><path d="M622.71,507.90 v-4.2"/></g>
<path d="M112.80,507.90 H622.60" stroke="#3a3a3a" stroke-width="1.00"/>
<text x="108" y="457.93" font-family="Liberation Serif" font-size="6" fill="#222" text-anchor="end">0.0135</text>
<text x="108" y="475.25" font-family="Liberation Serif" font-size="6" fill="#222" text-anchor="end">0.0090</text>
<text x="108" y="492.57" font-family="Liberation Serif" font-size="6" fill="#222" text-anchor="end">0.0045</text>
<text transform="translate(62.00,473.25) rotate(-90)" font-family="Liberation Serif" font-weight="bold" font-size="6.2" fill="#111" text-anchor="middle" dominant-baseline="central">Accumulated total</text>
<text transform="translate(70.10,473.25) rotate(-90)" font-family="Liberation Serif" font-weight="bold" font-size="6.2" fill="#111" text-anchor="middle" dominant-baseline="central">deviation of tooth</text>
<text transform="translate(78.30,473.25) rotate(-90)" font-family="Liberation Serif" font-weight="bold" font-size="6.2" fill="#111" text-anchor="middle" dominant-baseline="central">pitch on the left tooth</text>
<text transform="translate(86.10,473.25) rotate(-90)" font-family="Liberation Serif" font-weight="bold" font-size="6.2" fill="#111" text-anchor="middle" dominant-baseline="central">face of gear 4</text>
<linearGradient id="gf4" gradientUnits="userSpaceOnUse" x1="0" y1="507.9" x2="0" y2="577.2"><stop offset="0" stop-color="#badb9b"/><stop offset="0.55" stop-color="#dcedc9"/><stop offset="1" stop-color="#fbfef1"/></linearGradient>
<path d="M112.80,547.90 C114.27,548.50 118.50,550.52 121.60,551.50 C124.70,552.48 128.17,553.57 131.40,553.80 C134.63,554.03 137.53,553.42 141.00,552.90 C144.47,552.38 148.48,551.38 152.20,550.70 C155.92,550.02 159.62,549.45 163.30,548.80 C166.98,548.15 170.62,547.73 174.30,546.80 C177.98,545.87 181.70,544.72 185.40,543.20 C189.10,541.68 192.80,539.18 196.50,537.70 C200.20,536.22 203.90,534.87 207.60,534.30 C211.30,533.73 215.00,534.15 218.70,534.30 C222.40,534.45 226.10,534.97 229.80,535.20 C233.50,535.43 237.20,535.98 240.90,535.70 C244.60,535.42 248.30,534.70 252.00,533.50 C255.70,532.30 259.63,529.80 263.10,528.50 C266.57,527.20 269.57,525.88 272.80,525.70 C276.03,525.52 278.62,526.65 282.50,527.40 C286.38,528.15 291.98,529.55 296.10,530.20 C300.22,530.85 303.03,530.83 307.20,531.30 C311.37,531.77 316.48,532.72 321.10,533.00 C325.72,533.28 330.28,533.15 334.90,533.00 C339.52,532.85 344.17,532.25 348.80,532.10 C353.43,531.95 358.53,532.18 362.70,532.10 C366.87,532.02 370.57,532.28 373.80,531.60 C377.03,530.92 378.87,529.30 382.10,528.00 C385.33,526.70 389.97,524.60 393.20,523.80 C396.43,523.00 398.73,523.20 401.50,523.20 C404.27,523.20 407.03,524.17 409.80,523.80 C412.57,523.43 414.87,522.52 418.10,521.00 C421.33,519.48 425.50,516.08 429.20,514.70 C432.90,513.32 437.05,513.03 440.30,512.70 C443.55,512.37 445.45,513.02 448.70,512.70 C451.95,512.38 456.25,511.33 459.80,510.80 C463.35,510.27 467.28,509.60 470.00,509.50 C472.72,509.40 473.23,509.20 476.10,510.20 C478.97,511.20 483.50,513.55 487.20,515.50 C490.90,517.45 495.07,520.42 498.30,521.90 C501.53,523.38 503.37,523.98 506.60,524.40 C509.83,524.82 514.00,524.27 517.70,524.40 C521.40,524.53 525.10,524.93 528.80,525.20 C532.50,525.47 536.67,525.87 539.90,526.00 C543.13,526.13 544.97,526.37 548.20,526.00 C551.43,525.63 555.13,524.53 559.30,523.80 C563.47,523.07 569.03,521.83 573.20,521.60 C577.37,521.37 580.15,521.80 584.30,522.40 C588.45,523.00 594.40,524.83 598.10,525.20 C601.80,525.57 603.72,525.30 606.50,524.60 C609.28,523.90 612.12,522.20 614.80,521.00 C617.48,519.80 621.30,518.00 622.60,517.40 L622.60,577.20 L112.80,577.20 Z" fill="url(#gf4)"/>
<path d="M112.80,547.90 C114.27,548.50 118.50,550.52 121.60,551.50 C124.70,552.48 128.17,553.57 131.40,553.80 C134.63,554.03 137.53,553.42 141.00,552.90 C144.47,552.38 148.48,551.38 152.20,550.70 C155.92,550.02 159.62,549.45 163.30,548.80 C166.98,548.15 170.62,547.73 174.30,546.80 C177.98,545.87 181.70,544.72 185.40,543.20 C189.10,541.68 192.80,539.18 196.50,537.70 C200.20,536.22 203.90,534.87 207.60,534.30 C211.30,533.73 215.00,534.15 218.70,534.30 C222.40,534.45 226.10,534.97 229.80,535.20 C233.50,535.43 237.20,535.98 240.90,535.70 C244.60,535.42 248.30,534.70 252.00,533.50 C255.70,532.30 259.63,529.80 263.10,528.50 C266.57,527.20 269.57,525.88 272.80,525.70 C276.03,525.52 278.62,526.65 282.50,527.40 C286.38,528.15 291.98,529.55 296.10,530.20 C300.22,530.85 303.03,530.83 307.20,531.30 C311.37,531.77 316.48,532.72 321.10,533.00 C325.72,533.28 330.28,533.15 334.90,533.00 C339.52,532.85 344.17,532.25 348.80,532.10 C353.43,531.95 358.53,532.18 362.70,532.10 C366.87,532.02 370.57,532.28 373.80,531.60 C377.03,530.92 378.87,529.30 382.10,528.00 C385.33,526.70 389.97,524.60 393.20,523.80 C396.43,523.00 398.73,523.20 401.50,523.20 C404.27,523.20 407.03,524.17 409.80,523.80 C412.57,523.43 414.87,522.52 418.10,521.00 C421.33,519.48 425.50,516.08 429.20,514.70 C432.90,513.32 437.05,513.03 440.30,512.70 C443.55,512.37 445.45,513.02 448.70,512.70 C451.95,512.38 456.25,511.33 459.80,510.80 C463.35,510.27 467.28,509.60 470.00,509.50 C472.72,509.40 473.23,509.20 476.10,510.20 C478.97,511.20 483.50,513.55 487.20,515.50 C490.90,517.45 495.07,520.42 498.30,521.90 C501.53,523.38 503.37,523.98 506.60,524.40 C509.83,524.82 514.00,524.27 517.70,524.40 C521.40,524.53 525.10,524.93 528.80,525.20 C532.50,525.47 536.67,525.87 539.90,526.00 C543.13,526.13 544.97,526.37 548.20,526.00 C551.43,525.63 555.13,524.53 559.30,523.80 C563.47,523.07 569.03,521.83 573.20,521.60 C577.37,521.37 580.15,521.80 584.30,522.40 C588.45,523.00 594.40,524.83 598.10,525.20 C601.80,525.57 603.72,525.30 606.50,524.60 C609.28,523.90 612.12,522.20 614.80,521.00 C617.48,519.80 621.30,518.00 622.60,517.40" fill="none" stroke="#3cb043" stroke-width="1.5"/>
<g stroke="#111" stroke-width="0.9"><path d="M112.80,507.90 h4.00"/><path d="M112.80,511.37 h2.20"/><path d="M112.80,514.83 h2.20"/><path d="M112.80,518.29 h2.20"/><path d="M112.80,521.76 h2.20"/><path d="M112.80,525.23 h4.00"/><path d="M112.80,528.69 h2.20"/><path d="M112.80,532.15 h2.20"/><path d="M112.80,535.62 h2.20"/><path d="M112.80,539.09 h2.20"/><path d="M112.80,542.55 h4.00"/><path d="M112.80,546.01 h2.20"/><path d="M112.80,549.48 h2.20"/><path d="M112.80,552.95 h2.20"/><path d="M112.80,556.41 h2.20"/><path d="M112.80,559.88 h4.00"/><path d="M112.80,563.34 h2.20"/><path d="M112.80,566.81 h2.20"/><path d="M112.80,570.27 h2.20"/><path d="M112.80,573.74 h2.20"/><path d="M112.80,577.20 h4.00"/></g><g stroke="#9a9a9a" stroke-width="0.8"><path d="M112.60,577.20 v-4.2"/><path d="M114.55,577.20 v-1.8"/><path d="M116.51,577.20 v-1.8"/><path d="M118.46,577.20 v-1.8"/><path d="M120.42,577.20 v-1.8"/><path d="M122.37,577.20 v-1.8"/><path d="M124.33,577.20 v-1.8"/><path d="M126.28,577.20 v-1.8"/><path d="M128.24,577.20 v-1.8"/><path d="M130.19,577.20 v-4.2"/><path d="M132.14,577.20 v-1.8"/><path d="M134.10,577.20 v-1.8"/><path d="M136.05,577.20 v-1.8"/><path d="M138.01,577.20 v-1.8"/><path d="M139.96,577.20 v-1.8"/><path d="M141.92,577.20 v-1.8"/><path d="M143.87,577.20 v-1.8"/><path d="M145.83,577.20 v-1.8"/><path d="M147.78,577.20 v-4.2"/><path d="M149.73,577.20 v-1.8"/><path d="M151.69,577.20 v-1.8"/><path d="M153.64,577.20 v-1.8"/><path d="M155.60,577.20 v-1.8"/><path d="M157.55,577.20 v-1.8"/><path d="M159.51,577.20 v-1.8"/><path d="M161.46,577.20 v-1.8"/><path d="M163.42,577.20 v-1.8"/><path d="M165.37,577.20 v-4.2"/><path d="M167.32,577.20 v-1.8"/><path d="M169.28,577.20 v-1.8"/><path d="M171.23,577.20 v-1.8"/><path d="M173.19,577.20 v-1.8"/><path d="M175.14,577.20 v-1.8"/><path d="M177.10,577.20 v-1.8"/><path d="M179.05,577.20 v-1.8"/><path d="M181.01,577.20 v-1.8"/><path d="M182.96,577.20 v-4.2"/><path d="M184.91,577.20 v-1.8"/><path d="M186.87,577.20 v-1.8"/><path d="M188.82,577.20 v-1.8"/><path d="M190.78,577.20 v-1.8"/><path d="M192.73,577.20 v-1.8"/><path d="M194.69,577.20 v-1.8"/><path d="M196.64,577.20 v-1.8"/><path d="M198.60,577.20 v-1.8"/><path d="M200.55,577.20 v-4.2"/><path d="M202.50,577.20 v-1.8"/><path d="M204.46,577.20 v-1.8"/><path d="M206.41,577.20 v-1.8"/><path d="M208.37,577.20 v-1.8"/><path d="M210.32,577.20 v-1.8"/><path d="M212.28,577.20 v-1.8"/><path d="M214.23,577.20 v-1.8"/><path d="M216.19,577.20 v-1.8"/><path d="M218.14,577.20 v-4.2"/><path d="M220.09,577.20 v-1.8"/><path d="M222.05,577.20 v-1.8"/><path d="M224.00,577.20 v-1.8"/><path d="M225.96,577.20 v-1.8"/><path d="M227.91,577.20 v-1.8"/><path d="M229.87,577.20 v-1.8"/><path d="M231.82,577.20 v-1.8"/><path d="M233.78,577.20 v-1.8"/><path d="M235.73,577.20 v-4.2"/><path d="M237.68,577.20 v-1.8"/><path d="M239.64,577.20 v-1.8"/><path d="M241.59,577.20 v-1.8"/><path d="M243.55,577.20 v-1.8"/><path d="M245.50,577.20 v-1.8"/><path d="M247.46,577.20 v-1.8"/><path d="M249.41,577.20 v-1.8"/><path d="M251.37,577.20 v-1.8"/><path d="M253.32,577.20 v-4.2"/><path d="M255.27,577.20 v-1.8"/><path d="M257.23,577.20 v-1.8"/><path d="M259.18,577.20 v-1.8"/><path d="M261.14,577.20 v-1.8"/><path d="M263.09,577.20 v-1.8"/><path d="M265.05,577.20 v-1.8"/><path d="M267.00,577.20 v-1.8"/><path d="M268.96,577.20 v-1.8"/><path d="M270.91,577.20 v-4.2"/><path d="M272.86,577.20 v-1.8"/><path d="M274.82,577.20 v-1.8"/><path d="M276.77,577.20 v-1.8"/><path d="M278.73,577.20 v-1.8"/><path d="M280.68,577.20 v-1.8"/><path d="M282.64,577.20 v-1.8"/><path d="M284.59,577.20 v-1.8"/><path d="M286.55,577.20 v-1.8"/><path d="M288.50,577.20 v-4.2"/><path d="M290.45,577.20 v-1.8"/><path d="M292.41,577.20 v-1.8"/><path d="M294.36,577.20 v-1.8"/><path d="M296.32,577.20 v-1.8"/><path d="M298.27,577.20 v-1.8"/><path d="M300.23,577.20 v-1.8"/><path d="M302.18,577.20 v-1.8"/><path d="M304.14,577.20 v-1.8"/><path d="M306.09,577.20 v-4.2"/><path d="M308.04,577.20 v-1.8"/><path d="M310.00,577.20 v-1.8"/><path d="M311.95,577.20 v-1.8"/><path d="M313.91,577.20 v-1.8"/><path d="M315.86,577.20 v-1.8"/><path d="M317.82,577.20 v-1.8"/><path d="M319.77,577.20 v-1.8"/><path d="M321.73,577.20 v-1.8"/><path d="M323.68,577.20 v-4.2"/><path d="M325.63,577.20 v-1.8"/><path d="M327.59,577.20 v-1.8"/><path d="M329.54,577.20 v-1.8"/><path d="M331.50,577.20 v-1.8"/><path d="M333.45,577.20 v-1.8"/><path d="M335.41,577.20 v-1.8"/><path d="M337.36,577.20 v-1.8"/><path d="M339.32,577.20 v-1.8"/><path d="M341.27,577.20 v-4.2"/><path d="M343.22,577.20 v-1.8"/><path d="M345.18,577.20 v-1.8"/><path d="M347.13,577.20 v-1.8"/><path d="M349.09,577.20 v-1.8"/><path d="M351.04,577.20 v-1.8"/><path d="M353.00,577.20 v-1.8"/><path d="M354.95,577.20 v-1.8"/><path d="M356.91,577.20 v-1.8"/><path d="M358.86,577.20 v-4.2"/><path d="M360.81,577.20 v-1.8"/><path d="M362.77,577.20 v-1.8"/><path d="M364.72,577.20 v-1.8"/><path d="M366.68,577.20 v-1.8"/><path d="M368.63,577.20 v-1.8"/><path d="M370.59,577.20 v-1.8"/><path d="M372.54,577.20 v-1.8"/><path d="M374.50,577.20 v-1.8"/><path d="M376.45,577.20 v-4.2"/><path d="M378.40,577.20 v-1.8"/><path d="M380.36,577.20 v-1.8"/><path d="M382.31,577.20 v-1.8"/><path d="M384.27,577.20 v-1.8"/><path d="M386.22,577.20 v-1.8"/><path d="M388.18,577.20 v-1.8"/><path d="M390.13,577.20 v-1.8"/><path d="M392.09,577.20 v-1.8"/><path d="M394.04,577.20 v-4.2"/><path d="M395.99,577.20 v-1.8"/><path d="M397.95,577.20 v-1.8"/><path d="M399.90,577.20 v-1.8"/><path d="M401.86,577.20 v-1.8"/><path d="M403.81,577.20 v-1.8"/><path d="M405.77,577.20 v-1.8"/><path d="M407.72,577.20 v-1.8"/><path d="M409.68,577.20 v-1.8"/><path d="M411.63,577.20 v-4.2"/><path d="M413.58,577.20 v-1.8"/><path d="M415.54,577.20 v-1.8"/><path d="M417.49,577.20 v-1.8"/><path d="M419.45,577.20 v-1.8"/><path d="M421.40,577.20 v-1.8"/><path d="M423.36,577.20 v-1.8"/><path d="M425.31,577.20 v-1.8"/><path d="M427.27,577.20 v-1.8"/><path d="M429.22,577.20 v-4.2"/><path d="M431.17,577.20 v-1.8"/><path d="M433.13,577.20 v-1.8"/><path d="M435.08,577.20 v-1.8"/><path d="M437.04,577.20 v-1.8"/><path d="M438.99,577.20 v-1.8"/><path d="M440.95,577.20 v-1.8"/><path d="M442.90,577.20 v-1.8"/><path d="M444.86,577.20 v-1.8"/><path d="M446.81,577.20 v-4.2"/><path d="M448.76,577.20 v-1.8"/><path d="M450.72,577.20 v-1.8"/><path d="M452.67,577.20 v-1.8"/><path d="M454.63,577.20 v-1.8"/><path d="M456.58,577.20 v-1.8"/><path d="M458.54,577.20 v-1.8"/><path d="M460.49,577.20 v-1.8"/><path d="M462.45,577.20 v-1.8"/><path d="M464.40,577.20 v-4.2"/><path d="M466.35,577.20 v-1.8"/><path d="M468.31,577.20 v-1.8"/><path d="M470.26,577.20 v-1.8"/><path d="M472.22,577.20 v-1.8"/><path d="M474.17,577.20 v-1.8"/><path d="M476.13,577.20 v-1.8"/><path d="M478.08,577.20 v-1.8"/><path d="M480.04,577.20 v-1.8"/><path d="M481.99,577.20 v-4.2"/><path d="M483.94,577.20 v-1.8"/><path d="M485.90,577.20 v-1.8"/><path d="M487.85,577.20 v-1.8"/><path d="M489.81,577.20 v-1.8"/><path d="M491.76,577.20 v-1.8"/><path d="M493.72,577.20 v-1.8"/><path d="M495.67,577.20 v-1.8"/><path d="M497.63,577.20 v-1.8"/><path d="M499.58,577.20 v-4.2"/><path d="M501.53,577.20 v-1.8"/><path d="M503.49,577.20 v-1.8"/><path d="M505.44,577.20 v-1.8"/><path d="M507.40,577.20 v-1.8"/><path d="M509.35,577.20 v-1.8"/><path d="M511.31,577.20 v-1.8"/><path d="M513.26,577.20 v-1.8"/><path d="M515.22,577.20 v-1.8"/><path d="M517.17,577.20 v-4.2"/><path d="M519.12,577.20 v-1.8"/><path d="M521.08,577.20 v-1.8"/><path d="M523.03,577.20 v-1.8"/><path d="M524.99,577.20 v-1.8"/><path d="M526.94,577.20 v-1.8"/><path d="M528.90,577.20 v-1.8"/><path d="M530.85,577.20 v-1.8"/><path d="M532.81,577.20 v-1.8"/><path d="M534.76,577.20 v-4.2"/><path d="M536.71,577.20 v-1.8"/><path d="M538.67,577.20 v-1.8"/><path d="M540.62,577.20 v-1.8"/><path d="M542.58,577.20 v-1.8"/><path d="M544.53,577.20 v-1.8"/><path d="M546.49,577.20 v-1.8"/><path d="M548.44,577.20 v-1.8"/><path d="M550.40,577.20 v-1.8"/><path d="M552.35,577.20 v-4.2"/><path d="M554.30,577.20 v-1.8"/><path d="M556.26,577.20 v-1.8"/><path d="M558.21,577.20 v-1.8"/><path d="M560.17,577.20 v-1.8"/><path d="M562.12,577.20 v-1.8"/><path d="M564.08,577.20 v-1.8"/><path d="M566.03,577.20 v-1.8"/><path d="M567.99,577.20 v-1.8"/><path d="M569.94,577.20 v-4.2"/><path d="M571.89,577.20 v-1.8"/><path d="M573.85,577.20 v-1.8"/><path d="M575.80,577.20 v-1.8"/><path d="M577.76,577.20 v-1.8"/><path d="M579.71,577.20 v-1.8"/><path d="M581.67,577.20 v-1.8"/><path d="M583.62,577.20 v-1.8"/><path d="M585.58,577.20 v-1.8"/><path d="M587.53,577.20 v-4.2"/><path d="M589.48,577.20 v-1.8"/><path d="M591.44,577.20 v-1.8"/><path d="M593.39,577.20 v-1.8"/><path d="M595.35,577.20 v-1.8"/><path d="M597.30,577.20 v-1.8"/><path d="M599.26,577.20 v-1.8"/><path d="M601.21,577.20 v-1.8"/><path d="M603.17,577.20 v-1.8"/><path d="M605.12,577.20 v-4.2"/><path d="M607.07,577.20 v-1.8"/><path d="M609.03,577.20 v-1.8"/><path d="M610.98,577.20 v-1.8"/><path d="M612.94,577.20 v-1.8"/><path d="M614.89,577.20 v-1.8"/><path d="M616.85,577.20 v-1.8"/><path d="M618.80,577.20 v-1.8"/><path d="M620.76,577.20 v-1.8"/><path d="M622.71,577.20 v-4.2"/></g>
<path d="M112.80,577.20 H622.60" stroke="#222" stroke-width="1.20"/>
<text x="108" y="509.90" font-family="Liberation Serif" font-size="6" fill="#222" text-anchor="end">0.0156</text>
<text x="108" y="527.23" font-family="Liberation Serif" font-size="6" fill="#222" text-anchor="end">0.0117</text>
<text x="108" y="544.55" font-family="Liberation Serif" font-size="6" fill="#222" text-anchor="end">0.0078</text>
<text x="108" y="561.88" font-family="Liberation Serif" font-size="6" fill="#222" text-anchor="end">0.0039</text>
<text x="108" y="579.20" font-family="Liberation Serif" font-size="6" fill="#222" text-anchor="end">0.0000</text>
<text transform="translate(75.50,542.55) rotate(-90)" font-family="Liberation Serif" font-weight="bold" font-size="8.1" fill="#111" text-anchor="middle" dominant-baseline="central">DA-LSTM</text>
<text transform="translate(85.70,542.55) rotate(-90)" font-family="Liberation Serif" font-weight="bold" font-size="8.1" fill="#111" text-anchor="middle" dominant-baseline="central">prediction results</text>
<path d="M112.80,230.10 V577.70 M622.60,230.10 V577.70 M112.30,230.60 H623.10" stroke="#111" stroke-width="1.15" fill="none"/>
<text x="100.2" y="224.4" font-family="Liberation Serif" font-size="6.6" fill="#222" text-anchor="middle">(mm)</text>
<g font-family="Liberation Serif" font-size="8" fill="#111" text-anchor="middle">
<text x="112.60" y="588.2">1</text>
<text x="130.19" y="588.2">2</text>
<text x="147.78" y="588.2">3</text>
<text x="165.37" y="588.2">4</text>
<text x="182.96" y="588.2">5</text>
<text x="200.55" y="588.2">6</text>
<text x="218.14" y="588.2">7</text>
<text x="235.73" y="588.2">8</text>
<text x="253.32" y="588.2">9</text>
<text x="270.91" y="588.2">10</text>
<text x="288.50" y="588.2">11</text>
<text x="306.09" y="588.2">12</text>
<text x="323.68" y="588.2">13</text>
<text x="341.27" y="588.2">14</text>
<text x="358.86" y="588.2">15</text>
<text x="376.45" y="588.2">16</text>
<text x="394.04" y="588.2">17</text>
<text x="411.63" y="588.2">18</text>
<text x="429.22" y="588.2">19</text>
<text x="446.81" y="588.2">20</text>
<text x="464.40" y="588.2">21</text>
<text x="481.99" y="588.2">22</text>
<text x="499.58" y="588.2">23</text>
<text x="517.17" y="588.2">24</text>
<text x="534.76" y="588.2">25</text>
<text x="552.35" y="588.2">26</text>
<text x="569.94" y="588.2">27</text>
<text x="587.53" y="588.2">28</text>
<text x="605.12" y="588.2">29</text>
<text x="622.71" y="588.2">30</text>
</g>
<text x="341.2" y="599.6" font-family="Liberation Serif" font-size="7" fill="#222" textLength="32.8" lengthAdjust="spacingAndGlyphs">(gear tooth)</text>
<text x="139.4" y="627.6" font-family="Liberation Serif" font-size="15.4" fill="#111" textLength="409.2" lengthAdjust="spacingAndGlyphs">(b) Histogram of prediction error distribution of DA-LSTM model</text>
</svg>
</body></html>
